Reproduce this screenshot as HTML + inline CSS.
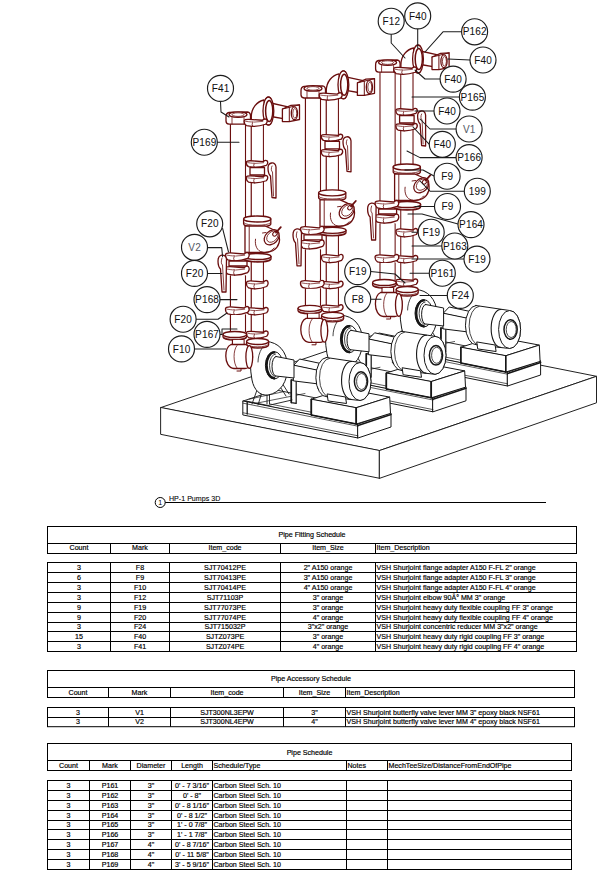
<!DOCTYPE html>
<html><head><meta charset="utf-8"><style>
html,body{margin:0;padding:0;background:#fff;}
svg{display:block;}
text{font-family:"Liberation Sans",sans-serif;}
</style></head><body>
<svg width="613" height="880" viewBox="0 0 613 880">
<rect width="613" height="880" fill="#fff"/>
<rect x="47.5" y="526.5" width="529.0" height="27.0" fill="none" stroke="#000" stroke-width="1"/>
<line x1="47.5" y1="543.5" x2="576.5" y2="543.5" stroke="#000" stroke-width="1"/>
<line x1="110.5" y1="543.5" x2="110.5" y2="553.5" stroke="#000" stroke-width="1"/>
<line x1="169.5" y1="543.5" x2="169.5" y2="553.5" stroke="#000" stroke-width="1"/>
<line x1="280.5" y1="543.5" x2="280.5" y2="553.5" stroke="#000" stroke-width="1"/>
<line x1="375.5" y1="543.5" x2="375.5" y2="553.5" stroke="#000" stroke-width="1"/>
<rect x="47.5" y="562.5" width="529.0" height="89.0" fill="none" stroke="#000" stroke-width="1"/>
<line x1="47.5" y1="572.5" x2="576.5" y2="572.5" stroke="#000" stroke-width="1"/>
<line x1="47.5" y1="582.5" x2="576.5" y2="582.5" stroke="#000" stroke-width="1"/>
<line x1="47.5" y1="592.5" x2="576.5" y2="592.5" stroke="#000" stroke-width="1"/>
<line x1="47.5" y1="602.5" x2="576.5" y2="602.5" stroke="#000" stroke-width="1"/>
<line x1="47.5" y1="612.5" x2="576.5" y2="612.5" stroke="#000" stroke-width="1"/>
<line x1="47.5" y1="622.5" x2="576.5" y2="622.5" stroke="#000" stroke-width="1"/>
<line x1="47.5" y1="631.5" x2="576.5" y2="631.5" stroke="#000" stroke-width="1"/>
<line x1="47.5" y1="641.5" x2="576.5" y2="641.5" stroke="#000" stroke-width="1"/>
<line x1="110.5" y1="562.5" x2="110.5" y2="651.5" stroke="#000" stroke-width="1"/>
<line x1="169.5" y1="562.5" x2="169.5" y2="651.5" stroke="#000" stroke-width="1"/>
<line x1="280.5" y1="562.5" x2="280.5" y2="651.5" stroke="#000" stroke-width="1"/>
<line x1="375.5" y1="562.5" x2="375.5" y2="651.5" stroke="#000" stroke-width="1"/>
<text x="312.0" y="536.8" font-size="7.1" text-anchor="middle" fill="#000" stroke="#000" stroke-width="0.18">Pipe Fitting Schedule</text>
<text x="79.0" y="550.0" font-size="7.1" text-anchor="middle" fill="#000" stroke="#000" stroke-width="0.18">Count</text>
<text x="140.0" y="550.0" font-size="7.1" text-anchor="middle" fill="#000" stroke="#000" stroke-width="0.18">Mark</text>
<text x="225.0" y="550.0" font-size="7.1" text-anchor="middle" fill="#000" stroke="#000" stroke-width="0.18">Item_code</text>
<text x="328.0" y="550.0" font-size="7.1" text-anchor="middle" fill="#000" stroke="#000" stroke-width="0.18">Item_Size</text>
<text x="376.5" y="550.0" font-size="7.1" text-anchor="start" fill="#000" stroke="#000" stroke-width="0.18">Item_Description</text>
<text x="79.0" y="570.0" font-size="7.1" text-anchor="middle" fill="#000" stroke="#000" stroke-width="0.18">3</text>
<text x="140.0" y="570.0" font-size="7.1" text-anchor="middle" fill="#000" stroke="#000" stroke-width="0.18">F8</text>
<text x="225.0" y="570.0" font-size="7.1" text-anchor="middle" fill="#000" stroke="#000" stroke-width="0.18">SJT70412PE</text>
<text x="328.0" y="570.0" font-size="7.1" text-anchor="middle" fill="#000" stroke="#000" stroke-width="0.18">2&quot; A150 orange</text>
<text x="376.5" y="570.0" font-size="7.1" text-anchor="start" fill="#000" stroke="#000" stroke-width="0.18">VSH Shurjoint flange adapter A150 F-FL 2&quot; orange</text>
<text x="79.0" y="580.0" font-size="7.1" text-anchor="middle" fill="#000" stroke="#000" stroke-width="0.18">6</text>
<text x="140.0" y="580.0" font-size="7.1" text-anchor="middle" fill="#000" stroke="#000" stroke-width="0.18">F9</text>
<text x="225.0" y="580.0" font-size="7.1" text-anchor="middle" fill="#000" stroke="#000" stroke-width="0.18">SJT70413PE</text>
<text x="328.0" y="580.0" font-size="7.1" text-anchor="middle" fill="#000" stroke="#000" stroke-width="0.18">3&quot; A150 orange</text>
<text x="376.5" y="580.0" font-size="7.1" text-anchor="start" fill="#000" stroke="#000" stroke-width="0.18">VSH Shurjoint flange adapter A150 F-FL 3&quot; orange</text>
<text x="79.0" y="590.0" font-size="7.1" text-anchor="middle" fill="#000" stroke="#000" stroke-width="0.18">3</text>
<text x="140.0" y="590.0" font-size="7.1" text-anchor="middle" fill="#000" stroke="#000" stroke-width="0.18">F10</text>
<text x="225.0" y="590.0" font-size="7.1" text-anchor="middle" fill="#000" stroke="#000" stroke-width="0.18">SJT70414PE</text>
<text x="328.0" y="590.0" font-size="7.1" text-anchor="middle" fill="#000" stroke="#000" stroke-width="0.18">4&quot; A150 orange</text>
<text x="376.5" y="590.0" font-size="7.1" text-anchor="start" fill="#000" stroke="#000" stroke-width="0.18">VSH Shurjoint flange adapter A150 F-FL 4&quot; orange</text>
<text x="79.0" y="600.0" font-size="7.1" text-anchor="middle" fill="#000" stroke="#000" stroke-width="0.18">3</text>
<text x="140.0" y="600.0" font-size="7.1" text-anchor="middle" fill="#000" stroke="#000" stroke-width="0.18">F12</text>
<text x="225.0" y="600.0" font-size="7.1" text-anchor="middle" fill="#000" stroke="#000" stroke-width="0.18">SJT71103P</text>
<text x="328.0" y="600.0" font-size="7.1" text-anchor="middle" fill="#000" stroke="#000" stroke-width="0.18">3&quot; orange</text>
<text x="376.5" y="600.0" font-size="7.1" text-anchor="start" fill="#000" stroke="#000" stroke-width="0.18">VSH Shurjoint elbow 90Â° MM 3&quot; orange</text>
<text x="79.0" y="610.0" font-size="7.1" text-anchor="middle" fill="#000" stroke="#000" stroke-width="0.18">9</text>
<text x="140.0" y="610.0" font-size="7.1" text-anchor="middle" fill="#000" stroke="#000" stroke-width="0.18">F19</text>
<text x="225.0" y="610.0" font-size="7.1" text-anchor="middle" fill="#000" stroke="#000" stroke-width="0.18">SJT77073PE</text>
<text x="328.0" y="610.0" font-size="7.1" text-anchor="middle" fill="#000" stroke="#000" stroke-width="0.18">3&quot; orange</text>
<text x="376.5" y="610.0" font-size="7.1" text-anchor="start" fill="#000" stroke="#000" stroke-width="0.18">VSH Shurjoint heavy duty flexible coupling FF 3&quot; orange</text>
<text x="79.0" y="620.0" font-size="7.1" text-anchor="middle" fill="#000" stroke="#000" stroke-width="0.18">9</text>
<text x="140.0" y="620.0" font-size="7.1" text-anchor="middle" fill="#000" stroke="#000" stroke-width="0.18">F20</text>
<text x="225.0" y="620.0" font-size="7.1" text-anchor="middle" fill="#000" stroke="#000" stroke-width="0.18">SJT77074PE</text>
<text x="328.0" y="620.0" font-size="7.1" text-anchor="middle" fill="#000" stroke="#000" stroke-width="0.18">4&quot; orange</text>
<text x="376.5" y="620.0" font-size="7.1" text-anchor="start" fill="#000" stroke="#000" stroke-width="0.18">VSH Shurjoint heavy duty flexible coupling FF 4&quot; orange</text>
<text x="79.0" y="629.0" font-size="7.1" text-anchor="middle" fill="#000" stroke="#000" stroke-width="0.18">3</text>
<text x="140.0" y="629.0" font-size="7.1" text-anchor="middle" fill="#000" stroke="#000" stroke-width="0.18">F24</text>
<text x="225.0" y="629.0" font-size="7.1" text-anchor="middle" fill="#000" stroke="#000" stroke-width="0.18">SJT715032P</text>
<text x="328.0" y="629.0" font-size="7.1" text-anchor="middle" fill="#000" stroke="#000" stroke-width="0.18">3&quot;x2&quot; orange</text>
<text x="376.5" y="629.0" font-size="7.1" text-anchor="start" fill="#000" stroke="#000" stroke-width="0.18">VSH Shurjoint concentric reducer MM 3&quot;x2&quot; orange</text>
<text x="79.0" y="639.0" font-size="7.1" text-anchor="middle" fill="#000" stroke="#000" stroke-width="0.18">15</text>
<text x="140.0" y="639.0" font-size="7.1" text-anchor="middle" fill="#000" stroke="#000" stroke-width="0.18">F40</text>
<text x="225.0" y="639.0" font-size="7.1" text-anchor="middle" fill="#000" stroke="#000" stroke-width="0.18">SJTZ073PE</text>
<text x="328.0" y="639.0" font-size="7.1" text-anchor="middle" fill="#000" stroke="#000" stroke-width="0.18">3&quot; orange</text>
<text x="376.5" y="639.0" font-size="7.1" text-anchor="start" fill="#000" stroke="#000" stroke-width="0.18">VSH Shurjoint heavy duty rigid coupling FF 3&quot; orange</text>
<text x="79.0" y="649.0" font-size="7.1" text-anchor="middle" fill="#000" stroke="#000" stroke-width="0.18">3</text>
<text x="140.0" y="649.0" font-size="7.1" text-anchor="middle" fill="#000" stroke="#000" stroke-width="0.18">F41</text>
<text x="225.0" y="649.0" font-size="7.1" text-anchor="middle" fill="#000" stroke="#000" stroke-width="0.18">SJTZ074PE</text>
<text x="328.0" y="649.0" font-size="7.1" text-anchor="middle" fill="#000" stroke="#000" stroke-width="0.18">4&quot; orange</text>
<text x="376.5" y="649.0" font-size="7.1" text-anchor="start" fill="#000" stroke="#000" stroke-width="0.18">VSH Shurjoint heavy duty rigid coupling FF 4&quot; orange</text>
<rect x="47.5" y="670.5" width="527.0" height="27.0" fill="none" stroke="#000" stroke-width="1"/>
<line x1="47.5" y1="687.5" x2="574.5" y2="687.5" stroke="#000" stroke-width="1"/>
<line x1="108.5" y1="687.5" x2="108.5" y2="697.5" stroke="#000" stroke-width="1"/>
<line x1="170.5" y1="687.5" x2="170.5" y2="697.5" stroke="#000" stroke-width="1"/>
<line x1="283.5" y1="687.5" x2="283.5" y2="697.5" stroke="#000" stroke-width="1"/>
<line x1="345.5" y1="687.5" x2="345.5" y2="697.5" stroke="#000" stroke-width="1"/>
<rect x="47.5" y="707.5" width="527.0" height="19.200000000000045" fill="none" stroke="#000" stroke-width="1"/>
<line x1="47.5" y1="717.5" x2="574.5" y2="717.5" stroke="#000" stroke-width="1"/>
<line x1="108.5" y1="707.5" x2="108.5" y2="726.7" stroke="#000" stroke-width="1"/>
<line x1="170.5" y1="707.5" x2="170.5" y2="726.7" stroke="#000" stroke-width="1"/>
<line x1="283.5" y1="707.5" x2="283.5" y2="726.7" stroke="#000" stroke-width="1"/>
<line x1="345.5" y1="707.5" x2="345.5" y2="726.7" stroke="#000" stroke-width="1"/>
<text x="311.0" y="680.8" font-size="7.1" text-anchor="middle" fill="#000" stroke="#000" stroke-width="0.18">Pipe Accessory Schedule</text>
<text x="78.0" y="695.0" font-size="7.1" text-anchor="middle" fill="#000" stroke="#000" stroke-width="0.18">Count</text>
<text x="139.5" y="695.0" font-size="7.1" text-anchor="middle" fill="#000" stroke="#000" stroke-width="0.18">Mark</text>
<text x="227.0" y="695.0" font-size="7.1" text-anchor="middle" fill="#000" stroke="#000" stroke-width="0.18">Item_code</text>
<text x="314.5" y="695.0" font-size="7.1" text-anchor="middle" fill="#000" stroke="#000" stroke-width="0.18">Item_Size</text>
<text x="346.5" y="695.0" font-size="7.1" text-anchor="start" fill="#000" stroke="#000" stroke-width="0.18">Item_Description</text>
<text x="78.0" y="715.0" font-size="7.1" text-anchor="middle" fill="#000" stroke="#000" stroke-width="0.18">3</text>
<text x="139.5" y="715.0" font-size="7.1" text-anchor="middle" fill="#000" stroke="#000" stroke-width="0.18">V1</text>
<text x="227.0" y="715.0" font-size="7.1" text-anchor="middle" fill="#000" stroke="#000" stroke-width="0.18">SJT300NL3EPW</text>
<text x="314.5" y="715.0" font-size="7.1" text-anchor="middle" fill="#000" stroke="#000" stroke-width="0.18">3&quot;</text>
<text x="346.5" y="715.0" font-size="7.1" text-anchor="start" fill="#000" stroke="#000" stroke-width="0.18">VSH Shurjoint butterfly valve lever MM 3&quot; epoxy black NSF61</text>
<text x="78.0" y="724.2" font-size="7.1" text-anchor="middle" fill="#000" stroke="#000" stroke-width="0.18">3</text>
<text x="139.5" y="724.2" font-size="7.1" text-anchor="middle" fill="#000" stroke="#000" stroke-width="0.18">V2</text>
<text x="227.0" y="724.2" font-size="7.1" text-anchor="middle" fill="#000" stroke="#000" stroke-width="0.18">SJT300NL4EPW</text>
<text x="314.5" y="724.2" font-size="7.1" text-anchor="middle" fill="#000" stroke="#000" stroke-width="0.18">4&quot;</text>
<text x="346.5" y="724.2" font-size="7.1" text-anchor="start" fill="#000" stroke="#000" stroke-width="0.18">VSH Shurjoint butterfly valve lever MM 4&quot; epoxy black NSF61</text>
<rect x="47.5" y="743.5" width="524.0" height="27.0" fill="none" stroke="#000" stroke-width="1"/>
<line x1="47.5" y1="760.5" x2="571.5" y2="760.5" stroke="#000" stroke-width="1"/>
<line x1="89.5" y1="760.5" x2="89.5" y2="770.5" stroke="#000" stroke-width="1"/>
<line x1="130.5" y1="760.5" x2="130.5" y2="770.5" stroke="#000" stroke-width="1"/>
<line x1="171.5" y1="760.5" x2="171.5" y2="770.5" stroke="#000" stroke-width="1"/>
<line x1="212.5" y1="760.5" x2="212.5" y2="770.5" stroke="#000" stroke-width="1"/>
<line x1="346.5" y1="760.5" x2="346.5" y2="770.5" stroke="#000" stroke-width="1"/>
<line x1="387.5" y1="760.5" x2="387.5" y2="770.5" stroke="#000" stroke-width="1"/>
<rect x="47.5" y="780.5" width="524.0" height="89.0" fill="none" stroke="#000" stroke-width="1"/>
<line x1="47.5" y1="790.5" x2="571.5" y2="790.5" stroke="#000" stroke-width="1"/>
<line x1="47.5" y1="800.5" x2="571.5" y2="800.5" stroke="#000" stroke-width="1"/>
<line x1="47.5" y1="810.5" x2="571.5" y2="810.5" stroke="#000" stroke-width="1"/>
<line x1="47.5" y1="820.5" x2="571.5" y2="820.5" stroke="#000" stroke-width="1"/>
<line x1="47.5" y1="829.5" x2="571.5" y2="829.5" stroke="#000" stroke-width="1"/>
<line x1="47.5" y1="839.5" x2="571.5" y2="839.5" stroke="#000" stroke-width="1"/>
<line x1="47.5" y1="849.5" x2="571.5" y2="849.5" stroke="#000" stroke-width="1"/>
<line x1="47.5" y1="859.5" x2="571.5" y2="859.5" stroke="#000" stroke-width="1"/>
<line x1="89.5" y1="780.5" x2="89.5" y2="869.5" stroke="#000" stroke-width="1"/>
<line x1="130.5" y1="780.5" x2="130.5" y2="869.5" stroke="#000" stroke-width="1"/>
<line x1="171.5" y1="780.5" x2="171.5" y2="869.5" stroke="#000" stroke-width="1"/>
<line x1="212.5" y1="780.5" x2="212.5" y2="869.5" stroke="#000" stroke-width="1"/>
<line x1="346.5" y1="780.5" x2="346.5" y2="869.5" stroke="#000" stroke-width="1"/>
<line x1="387.5" y1="780.5" x2="387.5" y2="869.5" stroke="#000" stroke-width="1"/>
<text x="309.5" y="754.8" font-size="7.1" text-anchor="middle" fill="#000" stroke="#000" stroke-width="0.18">Pipe Schedule</text>
<text x="68.5" y="768.0" font-size="7.1" text-anchor="middle" fill="#000" stroke="#000" stroke-width="0.18">Count</text>
<text x="110.0" y="768.0" font-size="7.1" text-anchor="middle" fill="#000" stroke="#000" stroke-width="0.18">Mark</text>
<text x="151.0" y="768.0" font-size="7.1" text-anchor="middle" fill="#000" stroke="#000" stroke-width="0.18">Diameter</text>
<text x="192.0" y="768.0" font-size="7.1" text-anchor="middle" fill="#000" stroke="#000" stroke-width="0.18">Length</text>
<text x="213.5" y="768.0" font-size="7.1" text-anchor="start" fill="#000" stroke="#000" stroke-width="0.18">Schedule/Type</text>
<text x="347.5" y="768.0" font-size="7.1" text-anchor="start" fill="#000" stroke="#000" stroke-width="0.18">Notes</text>
<text x="388.5" y="768.0" font-size="7.1" text-anchor="start" fill="#000" stroke="#000" stroke-width="0.18">MechTeeSize/DistanceFromEndOfPipe</text>
<text x="68.5" y="788.0" font-size="7.1" text-anchor="middle" fill="#000" stroke="#000" stroke-width="0.18">3</text>
<text x="110.0" y="788.0" font-size="7.1" text-anchor="middle" fill="#000" stroke="#000" stroke-width="0.18">P161</text>
<text x="151.0" y="788.0" font-size="7.1" text-anchor="middle" fill="#000" stroke="#000" stroke-width="0.18">3&quot;</text>
<text x="192.0" y="788.0" font-size="7.1" text-anchor="middle" fill="#000" stroke="#000" stroke-width="0.18">0' - 7 3/16&quot;</text>
<text x="213.5" y="788.0" font-size="7.1" text-anchor="start" fill="#000" stroke="#000" stroke-width="0.18">Carbon Steel Sch. 10</text>
<text x="68.5" y="798.0" font-size="7.1" text-anchor="middle" fill="#000" stroke="#000" stroke-width="0.18">3</text>
<text x="110.0" y="798.0" font-size="7.1" text-anchor="middle" fill="#000" stroke="#000" stroke-width="0.18">P162</text>
<text x="151.0" y="798.0" font-size="7.1" text-anchor="middle" fill="#000" stroke="#000" stroke-width="0.18">3&quot;</text>
<text x="192.0" y="798.0" font-size="7.1" text-anchor="middle" fill="#000" stroke="#000" stroke-width="0.18">0' - 8&quot;</text>
<text x="213.5" y="798.0" font-size="7.1" text-anchor="start" fill="#000" stroke="#000" stroke-width="0.18">Carbon Steel Sch. 10</text>
<text x="68.5" y="808.0" font-size="7.1" text-anchor="middle" fill="#000" stroke="#000" stroke-width="0.18">3</text>
<text x="110.0" y="808.0" font-size="7.1" text-anchor="middle" fill="#000" stroke="#000" stroke-width="0.18">P163</text>
<text x="151.0" y="808.0" font-size="7.1" text-anchor="middle" fill="#000" stroke="#000" stroke-width="0.18">3&quot;</text>
<text x="192.0" y="808.0" font-size="7.1" text-anchor="middle" fill="#000" stroke="#000" stroke-width="0.18">0' - 8 1/16&quot;</text>
<text x="213.5" y="808.0" font-size="7.1" text-anchor="start" fill="#000" stroke="#000" stroke-width="0.18">Carbon Steel Sch. 10</text>
<text x="68.5" y="818.0" font-size="7.1" text-anchor="middle" fill="#000" stroke="#000" stroke-width="0.18">3</text>
<text x="110.0" y="818.0" font-size="7.1" text-anchor="middle" fill="#000" stroke="#000" stroke-width="0.18">P164</text>
<text x="151.0" y="818.0" font-size="7.1" text-anchor="middle" fill="#000" stroke="#000" stroke-width="0.18">3&quot;</text>
<text x="192.0" y="818.0" font-size="7.1" text-anchor="middle" fill="#000" stroke="#000" stroke-width="0.18">0' - 8 1/2&quot;</text>
<text x="213.5" y="818.0" font-size="7.1" text-anchor="start" fill="#000" stroke="#000" stroke-width="0.18">Carbon Steel Sch. 10</text>
<text x="68.5" y="827.0" font-size="7.1" text-anchor="middle" fill="#000" stroke="#000" stroke-width="0.18">3</text>
<text x="110.0" y="827.0" font-size="7.1" text-anchor="middle" fill="#000" stroke="#000" stroke-width="0.18">P165</text>
<text x="151.0" y="827.0" font-size="7.1" text-anchor="middle" fill="#000" stroke="#000" stroke-width="0.18">3&quot;</text>
<text x="192.0" y="827.0" font-size="7.1" text-anchor="middle" fill="#000" stroke="#000" stroke-width="0.18">1' - 0 7/8&quot;</text>
<text x="213.5" y="827.0" font-size="7.1" text-anchor="start" fill="#000" stroke="#000" stroke-width="0.18">Carbon Steel Sch. 10</text>
<text x="68.5" y="837.0" font-size="7.1" text-anchor="middle" fill="#000" stroke="#000" stroke-width="0.18">3</text>
<text x="110.0" y="837.0" font-size="7.1" text-anchor="middle" fill="#000" stroke="#000" stroke-width="0.18">P166</text>
<text x="151.0" y="837.0" font-size="7.1" text-anchor="middle" fill="#000" stroke="#000" stroke-width="0.18">3&quot;</text>
<text x="192.0" y="837.0" font-size="7.1" text-anchor="middle" fill="#000" stroke="#000" stroke-width="0.18">1' - 1 7/8&quot;</text>
<text x="213.5" y="837.0" font-size="7.1" text-anchor="start" fill="#000" stroke="#000" stroke-width="0.18">Carbon Steel Sch. 10</text>
<text x="68.5" y="847.0" font-size="7.1" text-anchor="middle" fill="#000" stroke="#000" stroke-width="0.18">3</text>
<text x="110.0" y="847.0" font-size="7.1" text-anchor="middle" fill="#000" stroke="#000" stroke-width="0.18">P167</text>
<text x="151.0" y="847.0" font-size="7.1" text-anchor="middle" fill="#000" stroke="#000" stroke-width="0.18">4&quot;</text>
<text x="192.0" y="847.0" font-size="7.1" text-anchor="middle" fill="#000" stroke="#000" stroke-width="0.18">0' - 8 7/16&quot;</text>
<text x="213.5" y="847.0" font-size="7.1" text-anchor="start" fill="#000" stroke="#000" stroke-width="0.18">Carbon Steel Sch. 10</text>
<text x="68.5" y="857.0" font-size="7.1" text-anchor="middle" fill="#000" stroke="#000" stroke-width="0.18">3</text>
<text x="110.0" y="857.0" font-size="7.1" text-anchor="middle" fill="#000" stroke="#000" stroke-width="0.18">P168</text>
<text x="151.0" y="857.0" font-size="7.1" text-anchor="middle" fill="#000" stroke="#000" stroke-width="0.18">4&quot;</text>
<text x="192.0" y="857.0" font-size="7.1" text-anchor="middle" fill="#000" stroke="#000" stroke-width="0.18">0' - 11 5/8&quot;</text>
<text x="213.5" y="857.0" font-size="7.1" text-anchor="start" fill="#000" stroke="#000" stroke-width="0.18">Carbon Steel Sch. 10</text>
<text x="68.5" y="867.0" font-size="7.1" text-anchor="middle" fill="#000" stroke="#000" stroke-width="0.18">3</text>
<text x="110.0" y="867.0" font-size="7.1" text-anchor="middle" fill="#000" stroke="#000" stroke-width="0.18">P169</text>
<text x="151.0" y="867.0" font-size="7.1" text-anchor="middle" fill="#000" stroke="#000" stroke-width="0.18">4&quot;</text>
<text x="192.0" y="867.0" font-size="7.1" text-anchor="middle" fill="#000" stroke="#000" stroke-width="0.18">3' - 5 9/16&quot;</text>
<text x="213.5" y="867.0" font-size="7.1" text-anchor="start" fill="#000" stroke="#000" stroke-width="0.18">Carbon Steel Sch. 10</text>
<circle cx="160.2" cy="502.5" r="5" fill="none" stroke="#000" stroke-width="1"/>
<text x="160.2" y="505" font-size="7" text-anchor="middle" fill="#000" >1</text>
<line x1="165.2" y1="502.5" x2="546" y2="502.5" stroke="#000" stroke-width="1"/>
<text x="169" y="500.6" font-size="7.1" text-anchor="start" fill="#000" stroke="#000" stroke-width="0.08">HP-1 Pumps 3D</text>
<path d="M161.0,407.5 L379.3,333.1 L596.5,376.3 L379.6,450.5 Z" stroke="#161616" stroke-width="0.95" fill="#fff" stroke-linejoin="round" stroke-linecap="round" />
<path d="M161.0,407.5 L379.6,450.5 L379.6,478.3 L161.0,434.4 Z" stroke="#161616" stroke-width="0.95" fill="#fff" stroke-linejoin="round" stroke-linecap="round" />
<path d="M379.6,450.5 L596.5,376.3 L596.5,402.8 L379.6,478.3 Z" stroke="#161616" stroke-width="0.95" fill="#fff" stroke-linejoin="round" stroke-linecap="round" />
<g transform="translate(149.6,-52)">
<path d="M243.2,401.0 L276.2,390.0 L391.0,413.0 L358.0,424.0 Z" stroke="#161616" stroke-width="0.9" fill="#fff" stroke-linejoin="round" stroke-linecap="round" />
<path d="M243.2,401.0 L358.0,424.0 L358.0,438.0 L243.2,415.0 Z" stroke="#161616" stroke-width="1.0" fill="#fff" stroke-linejoin="round" stroke-linecap="round" />
<path d="M358.0,424.0 L391.0,413.0 L391.0,427.0 L358.0,438.0 Z" stroke="#161616" stroke-width="1.0" fill="#fff" stroke-linejoin="round" stroke-linecap="round" />
<path d="M243.2,403.2 L358.0,426.2" stroke="#161616" stroke-width="0.7" fill="none" stroke-linejoin="round" stroke-linecap="round" />
<path d="M243.2,412.8 L358.0,435.8" stroke="#161616" stroke-width="0.7" fill="none" stroke-linejoin="round" stroke-linecap="round" />
<path d="M358.0,425.5 L391.0,414.5" stroke="#161616" stroke-width="1.5" fill="none" stroke-linejoin="round" stroke-linecap="round" />
<path d="M247.2,402.0 L247.2,414.0" stroke="#161616" stroke-width="1.3" fill="none" stroke-linejoin="round" stroke-linecap="round" />
<path d="M249.0,399.2 L283.0,391.8" stroke="#161616" stroke-width="0.7" fill="none" stroke-linejoin="round" stroke-linecap="round" />
<path d="M255.0,403.5 L305.0,393.5" stroke="#161616" stroke-width="0.7" fill="none" stroke-linejoin="round" stroke-linecap="round" />
<path d="M270.0,404.0 L318.0,413.5" stroke="#161616" stroke-width="0.7" fill="none" stroke-linejoin="round" stroke-linecap="round" />
<path d="M311.4,399.2 L344.8,388.6 L389.7,397.1 L356.3,407.7 Z" stroke="#161616" stroke-width="1.0" fill="#fff" stroke-linejoin="round" stroke-linecap="round" />
<path d="M311.4,399.2 L356.3,407.7 L356.3,424.0 L311.4,415.1 Z" stroke="#161616" stroke-width="1.0" fill="#fff" stroke-linejoin="round" stroke-linecap="round" />
<path d="M356.3,407.7 L389.7,397.1 L390.5,413.4 L356.3,424.0 Z" stroke="#161616" stroke-width="1.0" fill="#fff" stroke-linejoin="round" stroke-linecap="round" />
<path d="M311.4,399.2 L311.4,415.1" stroke="#161616" stroke-width="1.5" fill="none" stroke-linejoin="round" stroke-linecap="round" />
<path d="M356.3,408.0 L356.3,424.0" stroke="#161616" stroke-width="1.5" fill="none" stroke-linejoin="round" stroke-linecap="round" />
<path d="M291.3,379.8 L296.2,380.5 L296.2,403.4 L291.3,402.6 Z" stroke="#161616" stroke-width="1.2" fill="#fff" stroke-linejoin="round" stroke-linecap="round" />
<path d="M291.3,380.0 L291.3,402.6" stroke="#161616" stroke-width="1.6" fill="none" stroke-linejoin="round" stroke-linecap="round" />
<path d="M293.7,365.2 L299.6,359.0 L323.0,364.0 L317.2,370.1 Z" stroke="#161616" stroke-width="1.0" fill="#fff" stroke-linejoin="round" stroke-linecap="round" />
<path d="M293.7,365.2 L317.2,370.1 L317.2,383.8 L293.7,380.9 Z" stroke="#161616" stroke-width="1.0" fill="#fff" stroke-linejoin="round" stroke-linecap="round" />
<path d="M326.3,357.5 L360,362.5 A11,19 0 0 1 360,400.5 L327,396.8 A10.8,19.65 0 0 1 326.3,357.5 Z" stroke="#161616" stroke-width="1.0" fill="#fff" stroke-linejoin="round" stroke-linecap="round" />
<path d="M329.5,358.3 A10,19 0 0 0 330,397.2" stroke="#161616" stroke-width="0.8" fill="none" stroke-linejoin="round" stroke-linecap="round" />
<path d="M351.5,361.5 A9.5,18.5 0 0 0 351,399.3" stroke="#161616" stroke-width="1.1" fill="none" stroke-linejoin="round" stroke-linecap="round" />
<ellipse cx="360" cy="381.5" rx="11" ry="19" stroke="#161616" stroke-width="1.0" fill="#fff" transform="rotate(0 360 381.5)"/>
<ellipse cx="361" cy="381.5" rx="6.6" ry="9.8" stroke="#161616" stroke-width="1.5" fill="#fff" transform="rotate(0 361 381.5)"/>
<ellipse cx="361.6" cy="381.5" rx="5" ry="8" stroke="#161616" stroke-width="0.8" fill="none" transform="rotate(0 361.6 381.5)"/>
<path d="M257.0,390.0 L252.0,404.0" stroke="#161616" stroke-width="0.9" fill="none" stroke-linejoin="round" stroke-linecap="round" />
<path d="M262.0,392.0 L258.0,405.0" stroke="#161616" stroke-width="0.9" fill="none" stroke-linejoin="round" stroke-linecap="round" />
<path d="M267.0,393.0 L267.0,404.0" stroke="#161616" stroke-width="0.9" fill="none" stroke-linejoin="round" stroke-linecap="round" />
<path d="M269.5,393.0 L269.5,404.0" stroke="#161616" stroke-width="0.9" fill="none" stroke-linejoin="round" stroke-linecap="round" />
<path d="M279.0,385.0 L286.0,396.0" stroke="#161616" stroke-width="0.9" fill="none" stroke-linejoin="round" stroke-linecap="round" />
<path d="M282.0,383.0 L289.0,394.0" stroke="#161616" stroke-width="0.9" fill="none" stroke-linejoin="round" stroke-linecap="round" />
<path d="M246.0,401.0 L268.0,405.5 L292.0,400.0" stroke="#161616" stroke-width="0.9" fill="none" stroke-linejoin="round" stroke-linecap="round" />
<path d="M250.8,347 C252,344 258,341.5 266,341.5 C278,342 287,351 287.5,366 C288,382 280,393 268,395 C260,396 254,390 252,380 C250,370 250,356 250.8,347 Z" stroke="#161616" stroke-width="1.0" fill="#fff" stroke-linejoin="round" stroke-linecap="round" />
<path d="M262,348 C259,353 258,358 258,362" stroke="#161616" stroke-width="0.8" fill="none" stroke-linejoin="round" stroke-linecap="round" />
<ellipse cx="274.2" cy="365.3" rx="8.8" ry="13.7" stroke="#161616" stroke-width="1.0" fill="#fff" transform="rotate(0 274.2 365.3)"/>
<path d="M274.2,352.4 A7.6,12.9 0 0 0 274.2,378.2" stroke="#161616" stroke-width="2.4" fill="none" stroke-linejoin="round" stroke-linecap="round" />
<path d="M275.5,354 A6,11.3 0 0 0 275.5,376.6" stroke="#161616" stroke-width="0.8" fill="none" stroke-linejoin="round" stroke-linecap="round" />
<path d="M327.5,394.0 L345.5,397.0 L346.5,403.5 L328.5,401.0 Z" stroke="#161616" stroke-width="1.0" fill="#fff" stroke-linejoin="round" stroke-linecap="round" />
<path d="M311.4,415.1 L356.3,424.0" stroke="#161616" stroke-width="1.5" fill="none" stroke-linejoin="round" stroke-linecap="round" />
<path d="M276,356.5 L294,360 L294,378 L276,376 A4,9.75 0 0 1 276,356.5 Z" stroke="#161616" stroke-width="1.0" fill="#fff" stroke-linejoin="round" stroke-linecap="round" />
<path d="M230.5,121 L230.5,254 M245.4,121 L245.4,254" stroke="#6a0e0e" stroke-width="1.3" fill="none" stroke-linejoin="round" stroke-linecap="round" />
<path d="M231.1,121.0 L244.8,121.0 L244.8,254.0 L231.1,254.0 Z" stroke="none" stroke-width="0" fill="#fff" stroke-linejoin="round" stroke-linecap="round" />
<path d="M251.3,124 L251.3,337 M263.3,124 L263.3,337" stroke="#6a0e0e" stroke-width="1.3" fill="none" stroke-linejoin="round" stroke-linecap="round" />
<path d="M251.9,124.0 L262.7,124.0 L262.7,337.0 L251.9,337.0 Z" stroke="none" stroke-width="0" fill="#fff" stroke-linejoin="round" stroke-linecap="round" />
<path d="M226,117 Q226,113 229,112.5 L247.5,112 Q250.5,112.5 250.5,116 L250.5,121 Q250.5,124 247,124.2 L229,124.2 Q226,124 226,121 Z" stroke="#6a0e0e" stroke-width="1.3" fill="#fff" stroke-linejoin="round" stroke-linecap="round" />
<ellipse cx="238" cy="114.6" rx="9" ry="2.8" stroke="#6a0e0e" stroke-width="1.3" fill="#fff" transform="rotate(0 238 114.6)"/>
<ellipse cx="238" cy="114.6" rx="6" ry="1.8" stroke="#6a0e0e" stroke-width="0.8" fill="none" transform="rotate(0 238 114.6)"/>
<path d="M232,117.5 L232,124 M244,117.5 L244,124" stroke="#6a0e0e" stroke-width="0.8" fill="none" stroke-linejoin="round" stroke-linecap="round" />
<path d="M251.3,121 L251.3,117 C251.3,108 257,101.5 264,100 L266,121 Z" stroke="#6a0e0e" stroke-width="1.3" fill="#fff" stroke-linejoin="round" stroke-linecap="round" />
<path d="M268.5,102.5 L288.0,106.8 L286.0,119.2 L271.0,116.5 Z" stroke="#6a0e0e" stroke-width="1.3" fill="#fff" stroke-linejoin="round" stroke-linecap="round" />
<ellipse cx="268.4" cy="111" rx="5.4" ry="14" stroke="#6a0e0e" stroke-width="1.3" fill="#fff" transform="rotate(0 268.4 111)"/>
<ellipse cx="269.2" cy="111" rx="3.6" ry="10.5" stroke="#6a0e0e" stroke-width="1.5" fill="#fff" transform="rotate(0 269.2 111)"/>
<path d="M265.5,98.5 Q268,95.5 271,98 M265.5,123.5 Q268,126.5 271,124" stroke="#6a0e0e" stroke-width="1.0" fill="none" stroke-linejoin="round" stroke-linecap="round" />
<path d="M244.20,121.06 Q244.20,119.14 248.86,119.30 L262.37,120.26 Q264.70,118.18 266.57,119.46 Q268.20,121.86 265.64,124.26 Q255.85,127.62 246.53,125.54 Q243.97,124.10 244.20,121.06 Z" stroke="#6a0e0e" stroke-width="1.3" fill="#fff" stroke-linejoin="round" stroke-linecap="round" />
<path d="M252.82,121.86 Q251.19,124.26 252.82,126.66" stroke="#6a0e0e" stroke-width="0.8" fill="none" stroke-linejoin="round" stroke-linecap="round" />
<path d="M253.99,122.10 L262.84,121.38" stroke="#6a0e0e" stroke-width="0.7" fill="none" stroke-linejoin="round" stroke-linecap="round" />
<path d="M245.60,121.30 Q253.52,122.50 252.82,121.86" stroke="#6a0e0e" stroke-width="0.7" fill="none" stroke-linejoin="round" stroke-linecap="round" />
<path d="M282.4,109.0 L291.0,105.3 L299.5,104.8 L299.5,119.5 L289.3,121.6 L282.4,121.6 Z" stroke="#6a0e0e" stroke-width="1.3" fill="#fff" stroke-linejoin="round" stroke-linecap="round" />
<path d="M282.4,109.0 L289.3,107.4 L299.5,104.8" stroke="#6a0e0e" stroke-width="1.0" fill="none" stroke-linejoin="round" stroke-linecap="round" />
<path d="M289.3,107.4 L289.3,121.6" stroke="#6a0e0e" stroke-width="1.0" fill="none" stroke-linejoin="round" stroke-linecap="round" />
<ellipse cx="294.4" cy="113.3" rx="3.1" ry="6.4" stroke="#6a0e0e" stroke-width="1.3" fill="#fff" transform="rotate(0 294.4 113.3)"/>
<ellipse cx="294.8" cy="113.3" rx="2.0" ry="4.8" stroke="#6a0e0e" stroke-width="0.8" fill="none" transform="rotate(0 294.8 113.3)"/>
<path d="M246.30,162.40 Q246.30,160.60 250.64,160.75 L263.23,161.65 Q265.40,159.70 267.13,160.90 Q268.65,163.15 266.26,165.40 Q257.15,168.55 248.47,166.60 Q246.08,165.25 246.30,162.40 Z" stroke="#6a0e0e" stroke-width="1.3" fill="#fff" stroke-linejoin="round" stroke-linecap="round" />
<path d="M254.33,163.15 Q252.81,165.40 254.33,167.65" stroke="#6a0e0e" stroke-width="0.8" fill="none" stroke-linejoin="round" stroke-linecap="round" />
<path d="M255.41,163.38 L263.66,162.70" stroke="#6a0e0e" stroke-width="0.7" fill="none" stroke-linejoin="round" stroke-linecap="round" />
<path d="M247.60,162.62 Q254.98,163.75 254.33,163.15" stroke="#6a0e0e" stroke-width="0.7" fill="none" stroke-linejoin="round" stroke-linecap="round" />
<path d="M250,167.5 L264.5,167.5 L264.5,175 L250,175 Z" stroke="#6a0e0e" stroke-width="1.3" fill="#fff" stroke-linejoin="round" stroke-linecap="round" />
<path d="M246.30,177.56 Q246.30,175.64 250.64,175.80 L263.23,176.76 Q265.40,174.68 267.13,175.96 Q268.65,178.36 266.26,180.76 Q257.15,184.12 248.47,182.04 Q246.08,180.60 246.30,177.56 Z" stroke="#6a0e0e" stroke-width="1.3" fill="#fff" stroke-linejoin="round" stroke-linecap="round" />
<path d="M254.33,178.36 Q252.81,180.76 254.33,183.16" stroke="#6a0e0e" stroke-width="0.8" fill="none" stroke-linejoin="round" stroke-linecap="round" />
<path d="M255.41,178.60 L263.66,177.88" stroke="#6a0e0e" stroke-width="0.7" fill="none" stroke-linejoin="round" stroke-linecap="round" />
<path d="M247.60,177.80 Q254.98,179.00 254.33,178.36" stroke="#6a0e0e" stroke-width="0.7" fill="none" stroke-linejoin="round" stroke-linecap="round" />
<path d="M268,168 C268,162 275,161 276,167 L276,198 L272,197.5 L270.5,176 C268.5,174 268,171 268,168 Z" stroke="#6a0e0e" stroke-width="1.3" fill="#fff" stroke-linejoin="round" stroke-linecap="round" />
<path d="M272,166 C271,168 271,171 272.5,172 L273.5,196" stroke="#6a0e0e" stroke-width="0.8" fill="none" stroke-linejoin="round" stroke-linecap="round" />
<path d="M243.6,219 L243.6,224 A13.600000000000009,3 0 0 0 270.8,224 L270.8,219" stroke="#6a0e0e" stroke-width="1.3" fill="#fff" stroke-linejoin="round" stroke-linecap="round" />
<ellipse cx="257.2" cy="219" rx="13.600000000000009" ry="3" stroke="#6a0e0e" stroke-width="1.3" fill="#fff" transform="rotate(0 257.2 219)"/>
<path d="M244.1,223.0 A13.600000000000009,3 0 0 0 270.3,223.0" stroke="#6a0e0e" stroke-width="0.8" fill="none" stroke-linejoin="round" stroke-linecap="round" />
<path d="M245,226 L245,252.5 L262,252.5 C270,253 277,250 279,243 C281,236 277,231 272,229 L265,226 Z" stroke="#6a0e0e" stroke-width="1.3" fill="#fff" stroke-linejoin="round" stroke-linecap="round" />
<path d="M249.2,226.5 L249.2,252" stroke="#6a0e0e" stroke-width="0.9" fill="none" stroke-linejoin="round" stroke-linecap="round" />
<path d="M255.5,239.2 C254.5,246 257.5,251 262,252 C267,253 271.5,251.5 274.1,248" stroke="#6a0e0e" stroke-width="0.9" fill="none" stroke-linejoin="round" stroke-linecap="round" />
<ellipse cx="271.7" cy="237.3" rx="8.6" ry="6.3" stroke="#6a0e0e" stroke-width="1.3" fill="#fff" transform="rotate(-45 271.7 237.3)"/>
<ellipse cx="272.4" cy="236.6" rx="6.6" ry="4.6" stroke="#6a0e0e" stroke-width="0.8" fill="none" transform="rotate(-45 272.4 236.6)"/>
<path d="M262.5,233 L266,232.5" stroke="#6a0e0e" stroke-width="0.9" fill="none" stroke-linejoin="round" stroke-linecap="round" />
<ellipse cx="275" cy="233.8" rx="2.6" ry="1.9" stroke="#6a0e0e" stroke-width="1.0" fill="#fff" transform="rotate(-45 275 233.8)"/>
<path d="M276.0,232.5 L280.8,227.2" stroke="#6a0e0e" stroke-width="1.8" fill="none" stroke-linejoin="round" stroke-linecap="round" />
<path d="M244,256.5 L244,259 A13.5,3 0 0 0 271,259 L271,256.5" stroke="#6a0e0e" stroke-width="1.3" fill="#fff" stroke-linejoin="round" stroke-linecap="round" />
<ellipse cx="257.5" cy="256.5" rx="13.5" ry="3" stroke="#6a0e0e" stroke-width="1.3" fill="#fff" transform="rotate(0 257.5 256.5)"/>
<path d="M244.5,259.25 A13.5,3 0 0 0 270.5,259.25" stroke="#6a0e0e" stroke-width="0.8" fill="none" stroke-linejoin="round" stroke-linecap="round" />
<path d="M246.40,282.88 Q246.40,280.72 250.80,280.90 L263.56,281.98 Q265.76,279.64 267.52,281.08 Q269.06,283.78 266.64,286.48 Q257.40,290.26 248.60,287.92 Q246.18,286.30 246.40,282.88 Z" stroke="#6a0e0e" stroke-width="1.3" fill="#fff" stroke-linejoin="round" stroke-linecap="round" />
<path d="M254.54,283.78 Q253.00,286.48 254.54,289.18" stroke="#6a0e0e" stroke-width="0.8" fill="none" stroke-linejoin="round" stroke-linecap="round" />
<path d="M255.64,284.05 L264.00,283.24" stroke="#6a0e0e" stroke-width="0.7" fill="none" stroke-linejoin="round" stroke-linecap="round" />
<path d="M247.72,283.15 Q255.20,284.50 254.54,283.78" stroke="#6a0e0e" stroke-width="0.7" fill="none" stroke-linejoin="round" stroke-linecap="round" />
<path d="M246.40,309.56 Q246.40,307.64 250.80,307.80 L263.56,308.76 Q265.76,306.68 267.52,307.96 Q269.06,310.36 266.64,312.76 Q257.40,316.12 248.60,314.04 Q246.18,312.60 246.40,309.56 Z" stroke="#6a0e0e" stroke-width="1.3" fill="#fff" stroke-linejoin="round" stroke-linecap="round" />
<path d="M254.54,310.36 Q253.00,312.76 254.54,315.16" stroke="#6a0e0e" stroke-width="0.8" fill="none" stroke-linejoin="round" stroke-linecap="round" />
<path d="M255.64,310.60 L264.00,309.88" stroke="#6a0e0e" stroke-width="0.7" fill="none" stroke-linejoin="round" stroke-linecap="round" />
<path d="M247.72,309.80 Q255.20,311.00 254.54,310.36" stroke="#6a0e0e" stroke-width="0.7" fill="none" stroke-linejoin="round" stroke-linecap="round" />
<path d="M246.40,333.06 Q246.40,331.14 250.80,331.30 L263.56,332.26 Q265.76,330.18 267.52,331.46 Q269.06,333.86 266.64,336.26 Q257.40,339.62 248.60,337.54 Q246.18,336.10 246.40,333.06 Z" stroke="#6a0e0e" stroke-width="1.3" fill="#fff" stroke-linejoin="round" stroke-linecap="round" />
<path d="M254.54,333.86 Q253.00,336.26 254.54,338.66" stroke="#6a0e0e" stroke-width="0.8" fill="none" stroke-linejoin="round" stroke-linecap="round" />
<path d="M255.64,334.10 L264.00,333.38" stroke="#6a0e0e" stroke-width="0.7" fill="none" stroke-linejoin="round" stroke-linecap="round" />
<path d="M247.72,333.30 Q255.20,334.50 254.54,333.86" stroke="#6a0e0e" stroke-width="0.7" fill="none" stroke-linejoin="round" stroke-linecap="round" />
<path d="M246.6,341.5 L246.6,345 A11.000000000000014,3 0 0 0 268.6,345 L268.6,341.5" stroke="#6a0e0e" stroke-width="1.3" fill="#fff" stroke-linejoin="round" stroke-linecap="round" />
<ellipse cx="257.6" cy="341.5" rx="11.000000000000014" ry="3" stroke="#6a0e0e" stroke-width="1.3" fill="#fff" transform="rotate(0 257.6 341.5)"/>
<path d="M247.1,344.75 A11.000000000000014,3 0 0 0 268.1,344.75" stroke="#6a0e0e" stroke-width="0.8" fill="none" stroke-linejoin="round" stroke-linecap="round" />
<path d="M225.50,254.88 Q225.50,252.72 230.30,252.90 L244.22,253.98 Q246.62,251.64 248.54,253.08 Q250.22,255.78 247.58,258.48 Q237.50,262.26 227.90,259.92 Q225.26,258.30 225.50,254.88 Z" stroke="#6a0e0e" stroke-width="1.3" fill="#fff" stroke-linejoin="round" stroke-linecap="round" />
<path d="M234.38,255.78 Q232.70,258.48 234.38,261.18" stroke="#6a0e0e" stroke-width="0.8" fill="none" stroke-linejoin="round" stroke-linecap="round" />
<path d="M235.58,256.05 L244.70,255.24" stroke="#6a0e0e" stroke-width="0.7" fill="none" stroke-linejoin="round" stroke-linecap="round" />
<path d="M226.94,255.15 Q235.10,256.50 234.38,255.78" stroke="#6a0e0e" stroke-width="0.7" fill="none" stroke-linejoin="round" stroke-linecap="round" />
<path d="M229,261 L247,261 L247,266 L229,266 Z" stroke="#6a0e0e" stroke-width="1.3" fill="#fff" stroke-linejoin="round" stroke-linecap="round" />
<path d="M225.50,268.74 Q225.50,266.38 230.30,266.58 L244.22,267.76 Q246.62,265.21 248.54,266.78 Q250.22,269.72 247.58,272.66 Q237.50,276.77 227.90,274.22 Q225.26,272.46 225.50,268.74 Z" stroke="#6a0e0e" stroke-width="1.3" fill="#fff" stroke-linejoin="round" stroke-linecap="round" />
<path d="M234.38,269.72 Q232.70,272.66 234.38,275.60" stroke="#6a0e0e" stroke-width="0.8" fill="none" stroke-linejoin="round" stroke-linecap="round" />
<path d="M235.58,270.01 L244.70,269.13" stroke="#6a0e0e" stroke-width="0.7" fill="none" stroke-linejoin="round" stroke-linecap="round" />
<path d="M226.94,269.03 Q235.10,270.50 234.38,269.72" stroke="#6a0e0e" stroke-width="0.7" fill="none" stroke-linejoin="round" stroke-linecap="round" />
<path d="M218,261 C218,254 225.5,253 226.5,259 L226,292 L222,292 L220.5,269 C218.5,267 218,264 218,261 Z" stroke="#6a0e0e" stroke-width="1.3" fill="#fff" stroke-linejoin="round" stroke-linecap="round" />
<path d="M222,258 C221,261 221,264 222.5,265 L224,290" stroke="#6a0e0e" stroke-width="0.8" fill="none" stroke-linejoin="round" stroke-linecap="round" />
<path d="M230.5,276 L230.5,306 M245.4,276 L245.4,306" stroke="#6a0e0e" stroke-width="1.3" fill="none" stroke-linejoin="round" stroke-linecap="round" />
<path d="M231.1,276.0 L244.8,276.0 L244.8,306.0 L231.1,306.0 Z" stroke="none" stroke-width="0" fill="#fff" stroke-linejoin="round" stroke-linecap="round" />
<path d="M225.50,308.88 Q225.50,306.72 230.30,306.90 L244.22,307.98 Q246.62,305.64 248.54,307.08 Q250.22,309.78 247.58,312.48 Q237.50,316.26 227.90,313.92 Q225.26,312.30 225.50,308.88 Z" stroke="#6a0e0e" stroke-width="1.3" fill="#fff" stroke-linejoin="round" stroke-linecap="round" />
<path d="M234.38,309.78 Q232.70,312.48 234.38,315.18" stroke="#6a0e0e" stroke-width="0.8" fill="none" stroke-linejoin="round" stroke-linecap="round" />
<path d="M235.58,310.05 L244.70,309.24" stroke="#6a0e0e" stroke-width="0.7" fill="none" stroke-linejoin="round" stroke-linecap="round" />
<path d="M226.94,309.15 Q235.10,310.50 234.38,309.78" stroke="#6a0e0e" stroke-width="0.7" fill="none" stroke-linejoin="round" stroke-linecap="round" />
<path d="M230.5,315 L230.5,331.5 M245.4,315 L245.4,331.5" stroke="#6a0e0e" stroke-width="1.3" fill="none" stroke-linejoin="round" stroke-linecap="round" />
<path d="M231.1,315.0 L244.8,315.0 L244.8,331.5 L231.1,331.5 Z" stroke="none" stroke-width="0" fill="#fff" stroke-linejoin="round" stroke-linecap="round" />
<path d="M223,334.5 L223,337 A11.799999999999997,3 0 0 0 246.6,337 L246.6,334.5" stroke="#6a0e0e" stroke-width="1.3" fill="#fff" stroke-linejoin="round" stroke-linecap="round" />
<ellipse cx="234.8" cy="334.5" rx="11.799999999999997" ry="3" stroke="#6a0e0e" stroke-width="1.3" fill="#fff" transform="rotate(0 234.8 334.5)"/>
<path d="M223.5,337.25 A11.799999999999997,3 0 0 0 246.1,337.25" stroke="#6a0e0e" stroke-width="0.8" fill="none" stroke-linejoin="round" stroke-linecap="round" />
<path d="M232.5,340 L232.5,345 M244,340 L244,345" stroke="#6a0e0e" stroke-width="1.3" fill="none" stroke-linejoin="round" stroke-linecap="round" />
<path d="M233.1,340.0 L243.4,340.0 L243.4,345.0 L233.1,345.0 Z" stroke="none" stroke-width="0" fill="#fff" stroke-linejoin="round" stroke-linecap="round" />
<path d="M231,344.5 L246,344.5 C250,347 252.5,352 252.5,357 C252.5,363 250,368.5 245,368.5 L234,368.5 C228.5,368 225.8,362 225.8,356 C225.8,350 228,346 231,344.5 Z" stroke="#6a0e0e" stroke-width="1.3" fill="#fff" stroke-linejoin="round" stroke-linecap="round" />
<ellipse cx="249.3" cy="357" rx="3.4" ry="11.4" stroke="#6a0e0e" stroke-width="1.3" fill="#fff" transform="rotate(0 249.3 357)"/>
<path d="M237,345.5 C233,350 233,363 237,368" stroke="#6a0e0e" stroke-width="0.8" fill="none" stroke-linejoin="round" stroke-linecap="round" />
<path d="M241.0,368.5 L241.0,371.0 L237.0,371.0" stroke="#6a0e0e" stroke-width="1.0" fill="none" stroke-linejoin="round" stroke-linecap="round" />
</g>
<g transform="translate(75,-26.2)">
<path d="M243.2,401.0 L276.2,390.0 L391.0,413.0 L358.0,424.0 Z" stroke="#161616" stroke-width="0.9" fill="#fff" stroke-linejoin="round" stroke-linecap="round" />
<path d="M243.2,401.0 L358.0,424.0 L358.0,438.0 L243.2,415.0 Z" stroke="#161616" stroke-width="1.0" fill="#fff" stroke-linejoin="round" stroke-linecap="round" />
<path d="M358.0,424.0 L391.0,413.0 L391.0,427.0 L358.0,438.0 Z" stroke="#161616" stroke-width="1.0" fill="#fff" stroke-linejoin="round" stroke-linecap="round" />
<path d="M243.2,403.2 L358.0,426.2" stroke="#161616" stroke-width="0.7" fill="none" stroke-linejoin="round" stroke-linecap="round" />
<path d="M243.2,412.8 L358.0,435.8" stroke="#161616" stroke-width="0.7" fill="none" stroke-linejoin="round" stroke-linecap="round" />
<path d="M358.0,425.5 L391.0,414.5" stroke="#161616" stroke-width="1.5" fill="none" stroke-linejoin="round" stroke-linecap="round" />
<path d="M247.2,402.0 L247.2,414.0" stroke="#161616" stroke-width="1.3" fill="none" stroke-linejoin="round" stroke-linecap="round" />
<path d="M249.0,399.2 L283.0,391.8" stroke="#161616" stroke-width="0.7" fill="none" stroke-linejoin="round" stroke-linecap="round" />
<path d="M255.0,403.5 L305.0,393.5" stroke="#161616" stroke-width="0.7" fill="none" stroke-linejoin="round" stroke-linecap="round" />
<path d="M270.0,404.0 L318.0,413.5" stroke="#161616" stroke-width="0.7" fill="none" stroke-linejoin="round" stroke-linecap="round" />
<path d="M311.4,399.2 L344.8,388.6 L389.7,397.1 L356.3,407.7 Z" stroke="#161616" stroke-width="1.0" fill="#fff" stroke-linejoin="round" stroke-linecap="round" />
<path d="M311.4,399.2 L356.3,407.7 L356.3,424.0 L311.4,415.1 Z" stroke="#161616" stroke-width="1.0" fill="#fff" stroke-linejoin="round" stroke-linecap="round" />
<path d="M356.3,407.7 L389.7,397.1 L390.5,413.4 L356.3,424.0 Z" stroke="#161616" stroke-width="1.0" fill="#fff" stroke-linejoin="round" stroke-linecap="round" />
<path d="M311.4,399.2 L311.4,415.1" stroke="#161616" stroke-width="1.5" fill="none" stroke-linejoin="round" stroke-linecap="round" />
<path d="M356.3,408.0 L356.3,424.0" stroke="#161616" stroke-width="1.5" fill="none" stroke-linejoin="round" stroke-linecap="round" />
<path d="M291.3,379.8 L296.2,380.5 L296.2,403.4 L291.3,402.6 Z" stroke="#161616" stroke-width="1.2" fill="#fff" stroke-linejoin="round" stroke-linecap="round" />
<path d="M291.3,380.0 L291.3,402.6" stroke="#161616" stroke-width="1.6" fill="none" stroke-linejoin="round" stroke-linecap="round" />
<path d="M293.7,365.2 L299.6,359.0 L323.0,364.0 L317.2,370.1 Z" stroke="#161616" stroke-width="1.0" fill="#fff" stroke-linejoin="round" stroke-linecap="round" />
<path d="M293.7,365.2 L317.2,370.1 L317.2,383.8 L293.7,380.9 Z" stroke="#161616" stroke-width="1.0" fill="#fff" stroke-linejoin="round" stroke-linecap="round" />
<path d="M326.3,357.5 L360,362.5 A11,19 0 0 1 360,400.5 L327,396.8 A10.8,19.65 0 0 1 326.3,357.5 Z" stroke="#161616" stroke-width="1.0" fill="#fff" stroke-linejoin="round" stroke-linecap="round" />
<path d="M329.5,358.3 A10,19 0 0 0 330,397.2" stroke="#161616" stroke-width="0.8" fill="none" stroke-linejoin="round" stroke-linecap="round" />
<path d="M351.5,361.5 A9.5,18.5 0 0 0 351,399.3" stroke="#161616" stroke-width="1.1" fill="none" stroke-linejoin="round" stroke-linecap="round" />
<ellipse cx="360" cy="381.5" rx="11" ry="19" stroke="#161616" stroke-width="1.0" fill="#fff" transform="rotate(0 360 381.5)"/>
<ellipse cx="361" cy="381.5" rx="6.6" ry="9.8" stroke="#161616" stroke-width="1.5" fill="#fff" transform="rotate(0 361 381.5)"/>
<ellipse cx="361.6" cy="381.5" rx="5" ry="8" stroke="#161616" stroke-width="0.8" fill="none" transform="rotate(0 361.6 381.5)"/>
<path d="M257.0,390.0 L252.0,404.0" stroke="#161616" stroke-width="0.9" fill="none" stroke-linejoin="round" stroke-linecap="round" />
<path d="M262.0,392.0 L258.0,405.0" stroke="#161616" stroke-width="0.9" fill="none" stroke-linejoin="round" stroke-linecap="round" />
<path d="M267.0,393.0 L267.0,404.0" stroke="#161616" stroke-width="0.9" fill="none" stroke-linejoin="round" stroke-linecap="round" />
<path d="M269.5,393.0 L269.5,404.0" stroke="#161616" stroke-width="0.9" fill="none" stroke-linejoin="round" stroke-linecap="round" />
<path d="M279.0,385.0 L286.0,396.0" stroke="#161616" stroke-width="0.9" fill="none" stroke-linejoin="round" stroke-linecap="round" />
<path d="M282.0,383.0 L289.0,394.0" stroke="#161616" stroke-width="0.9" fill="none" stroke-linejoin="round" stroke-linecap="round" />
<path d="M246.0,401.0 L268.0,405.5 L292.0,400.0" stroke="#161616" stroke-width="0.9" fill="none" stroke-linejoin="round" stroke-linecap="round" />
<path d="M250.8,347 C252,344 258,341.5 266,341.5 C278,342 287,351 287.5,366 C288,382 280,393 268,395 C260,396 254,390 252,380 C250,370 250,356 250.8,347 Z" stroke="#161616" stroke-width="1.0" fill="#fff" stroke-linejoin="round" stroke-linecap="round" />
<path d="M262,348 C259,353 258,358 258,362" stroke="#161616" stroke-width="0.8" fill="none" stroke-linejoin="round" stroke-linecap="round" />
<ellipse cx="274.2" cy="365.3" rx="8.8" ry="13.7" stroke="#161616" stroke-width="1.0" fill="#fff" transform="rotate(0 274.2 365.3)"/>
<path d="M274.2,352.4 A7.6,12.9 0 0 0 274.2,378.2" stroke="#161616" stroke-width="2.4" fill="none" stroke-linejoin="round" stroke-linecap="round" />
<path d="M275.5,354 A6,11.3 0 0 0 275.5,376.6" stroke="#161616" stroke-width="0.8" fill="none" stroke-linejoin="round" stroke-linecap="round" />
<path d="M327.5,394.0 L345.5,397.0 L346.5,403.5 L328.5,401.0 Z" stroke="#161616" stroke-width="1.0" fill="#fff" stroke-linejoin="round" stroke-linecap="round" />
<path d="M311.4,415.1 L356.3,424.0" stroke="#161616" stroke-width="1.5" fill="none" stroke-linejoin="round" stroke-linecap="round" />
<path d="M276,356.5 L294,360 L294,378 L276,376 A4,9.75 0 0 1 276,356.5 Z" stroke="#161616" stroke-width="1.0" fill="#fff" stroke-linejoin="round" stroke-linecap="round" />
<path d="M230.5,121 L230.5,254 M245.4,121 L245.4,254" stroke="#6a0e0e" stroke-width="1.3" fill="none" stroke-linejoin="round" stroke-linecap="round" />
<path d="M231.1,121.0 L244.8,121.0 L244.8,254.0 L231.1,254.0 Z" stroke="none" stroke-width="0" fill="#fff" stroke-linejoin="round" stroke-linecap="round" />
<path d="M251.3,124 L251.3,337 M263.3,124 L263.3,337" stroke="#6a0e0e" stroke-width="1.3" fill="none" stroke-linejoin="round" stroke-linecap="round" />
<path d="M251.9,124.0 L262.7,124.0 L262.7,337.0 L251.9,337.0 Z" stroke="none" stroke-width="0" fill="#fff" stroke-linejoin="round" stroke-linecap="round" />
<path d="M226,117 Q226,113 229,112.5 L247.5,112 Q250.5,112.5 250.5,116 L250.5,121 Q250.5,124 247,124.2 L229,124.2 Q226,124 226,121 Z" stroke="#6a0e0e" stroke-width="1.3" fill="#fff" stroke-linejoin="round" stroke-linecap="round" />
<ellipse cx="238" cy="114.6" rx="9" ry="2.8" stroke="#6a0e0e" stroke-width="1.3" fill="#fff" transform="rotate(0 238 114.6)"/>
<ellipse cx="238" cy="114.6" rx="6" ry="1.8" stroke="#6a0e0e" stroke-width="0.8" fill="none" transform="rotate(0 238 114.6)"/>
<path d="M232,117.5 L232,124 M244,117.5 L244,124" stroke="#6a0e0e" stroke-width="0.8" fill="none" stroke-linejoin="round" stroke-linecap="round" />
<path d="M251.3,121 L251.3,117 C251.3,108 257,101.5 264,100 L266,121 Z" stroke="#6a0e0e" stroke-width="1.3" fill="#fff" stroke-linejoin="round" stroke-linecap="round" />
<path d="M268.5,102.5 L288.0,106.8 L286.0,119.2 L271.0,116.5 Z" stroke="#6a0e0e" stroke-width="1.3" fill="#fff" stroke-linejoin="round" stroke-linecap="round" />
<ellipse cx="268.4" cy="111" rx="5.4" ry="14" stroke="#6a0e0e" stroke-width="1.3" fill="#fff" transform="rotate(0 268.4 111)"/>
<ellipse cx="269.2" cy="111" rx="3.6" ry="10.5" stroke="#6a0e0e" stroke-width="1.5" fill="#fff" transform="rotate(0 269.2 111)"/>
<path d="M265.5,98.5 Q268,95.5 271,98 M265.5,123.5 Q268,126.5 271,124" stroke="#6a0e0e" stroke-width="1.0" fill="none" stroke-linejoin="round" stroke-linecap="round" />
<path d="M244.20,121.06 Q244.20,119.14 248.86,119.30 L262.37,120.26 Q264.70,118.18 266.57,119.46 Q268.20,121.86 265.64,124.26 Q255.85,127.62 246.53,125.54 Q243.97,124.10 244.20,121.06 Z" stroke="#6a0e0e" stroke-width="1.3" fill="#fff" stroke-linejoin="round" stroke-linecap="round" />
<path d="M252.82,121.86 Q251.19,124.26 252.82,126.66" stroke="#6a0e0e" stroke-width="0.8" fill="none" stroke-linejoin="round" stroke-linecap="round" />
<path d="M253.99,122.10 L262.84,121.38" stroke="#6a0e0e" stroke-width="0.7" fill="none" stroke-linejoin="round" stroke-linecap="round" />
<path d="M245.60,121.30 Q253.52,122.50 252.82,121.86" stroke="#6a0e0e" stroke-width="0.7" fill="none" stroke-linejoin="round" stroke-linecap="round" />
<path d="M282.4,109.0 L291.0,105.3 L299.5,104.8 L299.5,119.5 L289.3,121.6 L282.4,121.6 Z" stroke="#6a0e0e" stroke-width="1.3" fill="#fff" stroke-linejoin="round" stroke-linecap="round" />
<path d="M282.4,109.0 L289.3,107.4 L299.5,104.8" stroke="#6a0e0e" stroke-width="1.0" fill="none" stroke-linejoin="round" stroke-linecap="round" />
<path d="M289.3,107.4 L289.3,121.6" stroke="#6a0e0e" stroke-width="1.0" fill="none" stroke-linejoin="round" stroke-linecap="round" />
<ellipse cx="294.4" cy="113.3" rx="3.1" ry="6.4" stroke="#6a0e0e" stroke-width="1.3" fill="#fff" transform="rotate(0 294.4 113.3)"/>
<ellipse cx="294.8" cy="113.3" rx="2.0" ry="4.8" stroke="#6a0e0e" stroke-width="0.8" fill="none" transform="rotate(0 294.8 113.3)"/>
<path d="M246.30,162.40 Q246.30,160.60 250.64,160.75 L263.23,161.65 Q265.40,159.70 267.13,160.90 Q268.65,163.15 266.26,165.40 Q257.15,168.55 248.47,166.60 Q246.08,165.25 246.30,162.40 Z" stroke="#6a0e0e" stroke-width="1.3" fill="#fff" stroke-linejoin="round" stroke-linecap="round" />
<path d="M254.33,163.15 Q252.81,165.40 254.33,167.65" stroke="#6a0e0e" stroke-width="0.8" fill="none" stroke-linejoin="round" stroke-linecap="round" />
<path d="M255.41,163.38 L263.66,162.70" stroke="#6a0e0e" stroke-width="0.7" fill="none" stroke-linejoin="round" stroke-linecap="round" />
<path d="M247.60,162.62 Q254.98,163.75 254.33,163.15" stroke="#6a0e0e" stroke-width="0.7" fill="none" stroke-linejoin="round" stroke-linecap="round" />
<path d="M250,167.5 L264.5,167.5 L264.5,175 L250,175 Z" stroke="#6a0e0e" stroke-width="1.3" fill="#fff" stroke-linejoin="round" stroke-linecap="round" />
<path d="M246.30,177.56 Q246.30,175.64 250.64,175.80 L263.23,176.76 Q265.40,174.68 267.13,175.96 Q268.65,178.36 266.26,180.76 Q257.15,184.12 248.47,182.04 Q246.08,180.60 246.30,177.56 Z" stroke="#6a0e0e" stroke-width="1.3" fill="#fff" stroke-linejoin="round" stroke-linecap="round" />
<path d="M254.33,178.36 Q252.81,180.76 254.33,183.16" stroke="#6a0e0e" stroke-width="0.8" fill="none" stroke-linejoin="round" stroke-linecap="round" />
<path d="M255.41,178.60 L263.66,177.88" stroke="#6a0e0e" stroke-width="0.7" fill="none" stroke-linejoin="round" stroke-linecap="round" />
<path d="M247.60,177.80 Q254.98,179.00 254.33,178.36" stroke="#6a0e0e" stroke-width="0.7" fill="none" stroke-linejoin="round" stroke-linecap="round" />
<path d="M268,168 C268,162 275,161 276,167 L276,198 L272,197.5 L270.5,176 C268.5,174 268,171 268,168 Z" stroke="#6a0e0e" stroke-width="1.3" fill="#fff" stroke-linejoin="round" stroke-linecap="round" />
<path d="M272,166 C271,168 271,171 272.5,172 L273.5,196" stroke="#6a0e0e" stroke-width="0.8" fill="none" stroke-linejoin="round" stroke-linecap="round" />
<path d="M243.6,219 L243.6,224 A13.600000000000009,3 0 0 0 270.8,224 L270.8,219" stroke="#6a0e0e" stroke-width="1.3" fill="#fff" stroke-linejoin="round" stroke-linecap="round" />
<ellipse cx="257.2" cy="219" rx="13.600000000000009" ry="3" stroke="#6a0e0e" stroke-width="1.3" fill="#fff" transform="rotate(0 257.2 219)"/>
<path d="M244.1,223.0 A13.600000000000009,3 0 0 0 270.3,223.0" stroke="#6a0e0e" stroke-width="0.8" fill="none" stroke-linejoin="round" stroke-linecap="round" />
<path d="M245,226 L245,252.5 L262,252.5 C270,253 277,250 279,243 C281,236 277,231 272,229 L265,226 Z" stroke="#6a0e0e" stroke-width="1.3" fill="#fff" stroke-linejoin="round" stroke-linecap="round" />
<path d="M249.2,226.5 L249.2,252" stroke="#6a0e0e" stroke-width="0.9" fill="none" stroke-linejoin="round" stroke-linecap="round" />
<path d="M255.5,239.2 C254.5,246 257.5,251 262,252 C267,253 271.5,251.5 274.1,248" stroke="#6a0e0e" stroke-width="0.9" fill="none" stroke-linejoin="round" stroke-linecap="round" />
<ellipse cx="271.7" cy="237.3" rx="8.6" ry="6.3" stroke="#6a0e0e" stroke-width="1.3" fill="#fff" transform="rotate(-45 271.7 237.3)"/>
<ellipse cx="272.4" cy="236.6" rx="6.6" ry="4.6" stroke="#6a0e0e" stroke-width="0.8" fill="none" transform="rotate(-45 272.4 236.6)"/>
<path d="M262.5,233 L266,232.5" stroke="#6a0e0e" stroke-width="0.9" fill="none" stroke-linejoin="round" stroke-linecap="round" />
<ellipse cx="275" cy="233.8" rx="2.6" ry="1.9" stroke="#6a0e0e" stroke-width="1.0" fill="#fff" transform="rotate(-45 275 233.8)"/>
<path d="M276.0,232.5 L280.8,227.2" stroke="#6a0e0e" stroke-width="1.8" fill="none" stroke-linejoin="round" stroke-linecap="round" />
<path d="M244,256.5 L244,259 A13.5,3 0 0 0 271,259 L271,256.5" stroke="#6a0e0e" stroke-width="1.3" fill="#fff" stroke-linejoin="round" stroke-linecap="round" />
<ellipse cx="257.5" cy="256.5" rx="13.5" ry="3" stroke="#6a0e0e" stroke-width="1.3" fill="#fff" transform="rotate(0 257.5 256.5)"/>
<path d="M244.5,259.25 A13.5,3 0 0 0 270.5,259.25" stroke="#6a0e0e" stroke-width="0.8" fill="none" stroke-linejoin="round" stroke-linecap="round" />
<path d="M246.40,282.88 Q246.40,280.72 250.80,280.90 L263.56,281.98 Q265.76,279.64 267.52,281.08 Q269.06,283.78 266.64,286.48 Q257.40,290.26 248.60,287.92 Q246.18,286.30 246.40,282.88 Z" stroke="#6a0e0e" stroke-width="1.3" fill="#fff" stroke-linejoin="round" stroke-linecap="round" />
<path d="M254.54,283.78 Q253.00,286.48 254.54,289.18" stroke="#6a0e0e" stroke-width="0.8" fill="none" stroke-linejoin="round" stroke-linecap="round" />
<path d="M255.64,284.05 L264.00,283.24" stroke="#6a0e0e" stroke-width="0.7" fill="none" stroke-linejoin="round" stroke-linecap="round" />
<path d="M247.72,283.15 Q255.20,284.50 254.54,283.78" stroke="#6a0e0e" stroke-width="0.7" fill="none" stroke-linejoin="round" stroke-linecap="round" />
<path d="M246.40,309.56 Q246.40,307.64 250.80,307.80 L263.56,308.76 Q265.76,306.68 267.52,307.96 Q269.06,310.36 266.64,312.76 Q257.40,316.12 248.60,314.04 Q246.18,312.60 246.40,309.56 Z" stroke="#6a0e0e" stroke-width="1.3" fill="#fff" stroke-linejoin="round" stroke-linecap="round" />
<path d="M254.54,310.36 Q253.00,312.76 254.54,315.16" stroke="#6a0e0e" stroke-width="0.8" fill="none" stroke-linejoin="round" stroke-linecap="round" />
<path d="M255.64,310.60 L264.00,309.88" stroke="#6a0e0e" stroke-width="0.7" fill="none" stroke-linejoin="round" stroke-linecap="round" />
<path d="M247.72,309.80 Q255.20,311.00 254.54,310.36" stroke="#6a0e0e" stroke-width="0.7" fill="none" stroke-linejoin="round" stroke-linecap="round" />
<path d="M246.40,333.06 Q246.40,331.14 250.80,331.30 L263.56,332.26 Q265.76,330.18 267.52,331.46 Q269.06,333.86 266.64,336.26 Q257.40,339.62 248.60,337.54 Q246.18,336.10 246.40,333.06 Z" stroke="#6a0e0e" stroke-width="1.3" fill="#fff" stroke-linejoin="round" stroke-linecap="round" />
<path d="M254.54,333.86 Q253.00,336.26 254.54,338.66" stroke="#6a0e0e" stroke-width="0.8" fill="none" stroke-linejoin="round" stroke-linecap="round" />
<path d="M255.64,334.10 L264.00,333.38" stroke="#6a0e0e" stroke-width="0.7" fill="none" stroke-linejoin="round" stroke-linecap="round" />
<path d="M247.72,333.30 Q255.20,334.50 254.54,333.86" stroke="#6a0e0e" stroke-width="0.7" fill="none" stroke-linejoin="round" stroke-linecap="round" />
<path d="M246.6,341.5 L246.6,345 A11.000000000000014,3 0 0 0 268.6,345 L268.6,341.5" stroke="#6a0e0e" stroke-width="1.3" fill="#fff" stroke-linejoin="round" stroke-linecap="round" />
<ellipse cx="257.6" cy="341.5" rx="11.000000000000014" ry="3" stroke="#6a0e0e" stroke-width="1.3" fill="#fff" transform="rotate(0 257.6 341.5)"/>
<path d="M247.1,344.75 A11.000000000000014,3 0 0 0 268.1,344.75" stroke="#6a0e0e" stroke-width="0.8" fill="none" stroke-linejoin="round" stroke-linecap="round" />
<path d="M225.50,254.88 Q225.50,252.72 230.30,252.90 L244.22,253.98 Q246.62,251.64 248.54,253.08 Q250.22,255.78 247.58,258.48 Q237.50,262.26 227.90,259.92 Q225.26,258.30 225.50,254.88 Z" stroke="#6a0e0e" stroke-width="1.3" fill="#fff" stroke-linejoin="round" stroke-linecap="round" />
<path d="M234.38,255.78 Q232.70,258.48 234.38,261.18" stroke="#6a0e0e" stroke-width="0.8" fill="none" stroke-linejoin="round" stroke-linecap="round" />
<path d="M235.58,256.05 L244.70,255.24" stroke="#6a0e0e" stroke-width="0.7" fill="none" stroke-linejoin="round" stroke-linecap="round" />
<path d="M226.94,255.15 Q235.10,256.50 234.38,255.78" stroke="#6a0e0e" stroke-width="0.7" fill="none" stroke-linejoin="round" stroke-linecap="round" />
<path d="M229,261 L247,261 L247,266 L229,266 Z" stroke="#6a0e0e" stroke-width="1.3" fill="#fff" stroke-linejoin="round" stroke-linecap="round" />
<path d="M225.50,268.74 Q225.50,266.38 230.30,266.58 L244.22,267.76 Q246.62,265.21 248.54,266.78 Q250.22,269.72 247.58,272.66 Q237.50,276.77 227.90,274.22 Q225.26,272.46 225.50,268.74 Z" stroke="#6a0e0e" stroke-width="1.3" fill="#fff" stroke-linejoin="round" stroke-linecap="round" />
<path d="M234.38,269.72 Q232.70,272.66 234.38,275.60" stroke="#6a0e0e" stroke-width="0.8" fill="none" stroke-linejoin="round" stroke-linecap="round" />
<path d="M235.58,270.01 L244.70,269.13" stroke="#6a0e0e" stroke-width="0.7" fill="none" stroke-linejoin="round" stroke-linecap="round" />
<path d="M226.94,269.03 Q235.10,270.50 234.38,269.72" stroke="#6a0e0e" stroke-width="0.7" fill="none" stroke-linejoin="round" stroke-linecap="round" />
<path d="M218,261 C218,254 225.5,253 226.5,259 L226,292 L222,292 L220.5,269 C218.5,267 218,264 218,261 Z" stroke="#6a0e0e" stroke-width="1.3" fill="#fff" stroke-linejoin="round" stroke-linecap="round" />
<path d="M222,258 C221,261 221,264 222.5,265 L224,290" stroke="#6a0e0e" stroke-width="0.8" fill="none" stroke-linejoin="round" stroke-linecap="round" />
<path d="M230.5,276 L230.5,306 M245.4,276 L245.4,306" stroke="#6a0e0e" stroke-width="1.3" fill="none" stroke-linejoin="round" stroke-linecap="round" />
<path d="M231.1,276.0 L244.8,276.0 L244.8,306.0 L231.1,306.0 Z" stroke="none" stroke-width="0" fill="#fff" stroke-linejoin="round" stroke-linecap="round" />
<path d="M225.50,308.88 Q225.50,306.72 230.30,306.90 L244.22,307.98 Q246.62,305.64 248.54,307.08 Q250.22,309.78 247.58,312.48 Q237.50,316.26 227.90,313.92 Q225.26,312.30 225.50,308.88 Z" stroke="#6a0e0e" stroke-width="1.3" fill="#fff" stroke-linejoin="round" stroke-linecap="round" />
<path d="M234.38,309.78 Q232.70,312.48 234.38,315.18" stroke="#6a0e0e" stroke-width="0.8" fill="none" stroke-linejoin="round" stroke-linecap="round" />
<path d="M235.58,310.05 L244.70,309.24" stroke="#6a0e0e" stroke-width="0.7" fill="none" stroke-linejoin="round" stroke-linecap="round" />
<path d="M226.94,309.15 Q235.10,310.50 234.38,309.78" stroke="#6a0e0e" stroke-width="0.7" fill="none" stroke-linejoin="round" stroke-linecap="round" />
<path d="M230.5,315 L230.5,331.5 M245.4,315 L245.4,331.5" stroke="#6a0e0e" stroke-width="1.3" fill="none" stroke-linejoin="round" stroke-linecap="round" />
<path d="M231.1,315.0 L244.8,315.0 L244.8,331.5 L231.1,331.5 Z" stroke="none" stroke-width="0" fill="#fff" stroke-linejoin="round" stroke-linecap="round" />
<path d="M223,334.5 L223,337 A11.799999999999997,3 0 0 0 246.6,337 L246.6,334.5" stroke="#6a0e0e" stroke-width="1.3" fill="#fff" stroke-linejoin="round" stroke-linecap="round" />
<ellipse cx="234.8" cy="334.5" rx="11.799999999999997" ry="3" stroke="#6a0e0e" stroke-width="1.3" fill="#fff" transform="rotate(0 234.8 334.5)"/>
<path d="M223.5,337.25 A11.799999999999997,3 0 0 0 246.1,337.25" stroke="#6a0e0e" stroke-width="0.8" fill="none" stroke-linejoin="round" stroke-linecap="round" />
<path d="M232.5,340 L232.5,345 M244,340 L244,345" stroke="#6a0e0e" stroke-width="1.3" fill="none" stroke-linejoin="round" stroke-linecap="round" />
<path d="M233.1,340.0 L243.4,340.0 L243.4,345.0 L233.1,345.0 Z" stroke="none" stroke-width="0" fill="#fff" stroke-linejoin="round" stroke-linecap="round" />
<path d="M231,344.5 L246,344.5 C250,347 252.5,352 252.5,357 C252.5,363 250,368.5 245,368.5 L234,368.5 C228.5,368 225.8,362 225.8,356 C225.8,350 228,346 231,344.5 Z" stroke="#6a0e0e" stroke-width="1.3" fill="#fff" stroke-linejoin="round" stroke-linecap="round" />
<ellipse cx="249.3" cy="357" rx="3.4" ry="11.4" stroke="#6a0e0e" stroke-width="1.3" fill="#fff" transform="rotate(0 249.3 357)"/>
<path d="M237,345.5 C233,350 233,363 237,368" stroke="#6a0e0e" stroke-width="0.8" fill="none" stroke-linejoin="round" stroke-linecap="round" />
<path d="M241.0,368.5 L241.0,371.0 L237.0,371.0" stroke="#6a0e0e" stroke-width="1.0" fill="none" stroke-linejoin="round" stroke-linecap="round" />
</g>
<g transform="translate(0,0)">
<path d="M243.2,401.0 L276.2,390.0 L391.0,413.0 L358.0,424.0 Z" stroke="#161616" stroke-width="0.9" fill="#fff" stroke-linejoin="round" stroke-linecap="round" />
<path d="M243.2,401.0 L358.0,424.0 L358.0,438.0 L243.2,415.0 Z" stroke="#161616" stroke-width="1.0" fill="#fff" stroke-linejoin="round" stroke-linecap="round" />
<path d="M358.0,424.0 L391.0,413.0 L391.0,427.0 L358.0,438.0 Z" stroke="#161616" stroke-width="1.0" fill="#fff" stroke-linejoin="round" stroke-linecap="round" />
<path d="M243.2,403.2 L358.0,426.2" stroke="#161616" stroke-width="0.7" fill="none" stroke-linejoin="round" stroke-linecap="round" />
<path d="M243.2,412.8 L358.0,435.8" stroke="#161616" stroke-width="0.7" fill="none" stroke-linejoin="round" stroke-linecap="round" />
<path d="M358.0,425.5 L391.0,414.5" stroke="#161616" stroke-width="1.5" fill="none" stroke-linejoin="round" stroke-linecap="round" />
<path d="M247.2,402.0 L247.2,414.0" stroke="#161616" stroke-width="1.3" fill="none" stroke-linejoin="round" stroke-linecap="round" />
<path d="M249.0,399.2 L283.0,391.8" stroke="#161616" stroke-width="0.7" fill="none" stroke-linejoin="round" stroke-linecap="round" />
<path d="M255.0,403.5 L305.0,393.5" stroke="#161616" stroke-width="0.7" fill="none" stroke-linejoin="round" stroke-linecap="round" />
<path d="M270.0,404.0 L318.0,413.5" stroke="#161616" stroke-width="0.7" fill="none" stroke-linejoin="round" stroke-linecap="round" />
<path d="M311.4,399.2 L344.8,388.6 L389.7,397.1 L356.3,407.7 Z" stroke="#161616" stroke-width="1.0" fill="#fff" stroke-linejoin="round" stroke-linecap="round" />
<path d="M311.4,399.2 L356.3,407.7 L356.3,424.0 L311.4,415.1 Z" stroke="#161616" stroke-width="1.0" fill="#fff" stroke-linejoin="round" stroke-linecap="round" />
<path d="M356.3,407.7 L389.7,397.1 L390.5,413.4 L356.3,424.0 Z" stroke="#161616" stroke-width="1.0" fill="#fff" stroke-linejoin="round" stroke-linecap="round" />
<path d="M311.4,399.2 L311.4,415.1" stroke="#161616" stroke-width="1.5" fill="none" stroke-linejoin="round" stroke-linecap="round" />
<path d="M356.3,408.0 L356.3,424.0" stroke="#161616" stroke-width="1.5" fill="none" stroke-linejoin="round" stroke-linecap="round" />
<path d="M291.3,379.8 L296.2,380.5 L296.2,403.4 L291.3,402.6 Z" stroke="#161616" stroke-width="1.2" fill="#fff" stroke-linejoin="round" stroke-linecap="round" />
<path d="M291.3,380.0 L291.3,402.6" stroke="#161616" stroke-width="1.6" fill="none" stroke-linejoin="round" stroke-linecap="round" />
<path d="M293.7,365.2 L299.6,359.0 L323.0,364.0 L317.2,370.1 Z" stroke="#161616" stroke-width="1.0" fill="#fff" stroke-linejoin="round" stroke-linecap="round" />
<path d="M293.7,365.2 L317.2,370.1 L317.2,383.8 L293.7,380.9 Z" stroke="#161616" stroke-width="1.0" fill="#fff" stroke-linejoin="round" stroke-linecap="round" />
<path d="M326.3,357.5 L360,362.5 A11,19 0 0 1 360,400.5 L327,396.8 A10.8,19.65 0 0 1 326.3,357.5 Z" stroke="#161616" stroke-width="1.0" fill="#fff" stroke-linejoin="round" stroke-linecap="round" />
<path d="M329.5,358.3 A10,19 0 0 0 330,397.2" stroke="#161616" stroke-width="0.8" fill="none" stroke-linejoin="round" stroke-linecap="round" />
<path d="M351.5,361.5 A9.5,18.5 0 0 0 351,399.3" stroke="#161616" stroke-width="1.1" fill="none" stroke-linejoin="round" stroke-linecap="round" />
<ellipse cx="360" cy="381.5" rx="11" ry="19" stroke="#161616" stroke-width="1.0" fill="#fff" transform="rotate(0 360 381.5)"/>
<ellipse cx="361" cy="381.5" rx="6.6" ry="9.8" stroke="#161616" stroke-width="1.5" fill="#fff" transform="rotate(0 361 381.5)"/>
<ellipse cx="361.6" cy="381.5" rx="5" ry="8" stroke="#161616" stroke-width="0.8" fill="none" transform="rotate(0 361.6 381.5)"/>
<path d="M257.0,390.0 L252.0,404.0" stroke="#161616" stroke-width="0.9" fill="none" stroke-linejoin="round" stroke-linecap="round" />
<path d="M262.0,392.0 L258.0,405.0" stroke="#161616" stroke-width="0.9" fill="none" stroke-linejoin="round" stroke-linecap="round" />
<path d="M267.0,393.0 L267.0,404.0" stroke="#161616" stroke-width="0.9" fill="none" stroke-linejoin="round" stroke-linecap="round" />
<path d="M269.5,393.0 L269.5,404.0" stroke="#161616" stroke-width="0.9" fill="none" stroke-linejoin="round" stroke-linecap="round" />
<path d="M279.0,385.0 L286.0,396.0" stroke="#161616" stroke-width="0.9" fill="none" stroke-linejoin="round" stroke-linecap="round" />
<path d="M282.0,383.0 L289.0,394.0" stroke="#161616" stroke-width="0.9" fill="none" stroke-linejoin="round" stroke-linecap="round" />
<path d="M246.0,401.0 L268.0,405.5 L292.0,400.0" stroke="#161616" stroke-width="0.9" fill="none" stroke-linejoin="round" stroke-linecap="round" />
<path d="M250.8,347 C252,344 258,341.5 266,341.5 C278,342 287,351 287.5,366 C288,382 280,393 268,395 C260,396 254,390 252,380 C250,370 250,356 250.8,347 Z" stroke="#161616" stroke-width="1.0" fill="#fff" stroke-linejoin="round" stroke-linecap="round" />
<path d="M262,348 C259,353 258,358 258,362" stroke="#161616" stroke-width="0.8" fill="none" stroke-linejoin="round" stroke-linecap="round" />
<ellipse cx="274.2" cy="365.3" rx="8.8" ry="13.7" stroke="#161616" stroke-width="1.0" fill="#fff" transform="rotate(0 274.2 365.3)"/>
<path d="M274.2,352.4 A7.6,12.9 0 0 0 274.2,378.2" stroke="#161616" stroke-width="2.4" fill="none" stroke-linejoin="round" stroke-linecap="round" />
<path d="M275.5,354 A6,11.3 0 0 0 275.5,376.6" stroke="#161616" stroke-width="0.8" fill="none" stroke-linejoin="round" stroke-linecap="round" />
<path d="M327.5,394.0 L345.5,397.0 L346.5,403.5 L328.5,401.0 Z" stroke="#161616" stroke-width="1.0" fill="#fff" stroke-linejoin="round" stroke-linecap="round" />
<path d="M311.4,415.1 L356.3,424.0" stroke="#161616" stroke-width="1.5" fill="none" stroke-linejoin="round" stroke-linecap="round" />
<path d="M276,356.5 L294,360 L294,378 L276,376 A4,9.75 0 0 1 276,356.5 Z" stroke="#161616" stroke-width="1.0" fill="#fff" stroke-linejoin="round" stroke-linecap="round" />
<path d="M230.5,121 L230.5,254 M245.4,121 L245.4,254" stroke="#6a0e0e" stroke-width="1.3" fill="none" stroke-linejoin="round" stroke-linecap="round" />
<path d="M231.1,121.0 L244.8,121.0 L244.8,254.0 L231.1,254.0 Z" stroke="none" stroke-width="0" fill="#fff" stroke-linejoin="round" stroke-linecap="round" />
<path d="M251.3,124 L251.3,337 M263.3,124 L263.3,337" stroke="#6a0e0e" stroke-width="1.3" fill="none" stroke-linejoin="round" stroke-linecap="round" />
<path d="M251.9,124.0 L262.7,124.0 L262.7,337.0 L251.9,337.0 Z" stroke="none" stroke-width="0" fill="#fff" stroke-linejoin="round" stroke-linecap="round" />
<path d="M226,117 Q226,113 229,112.5 L247.5,112 Q250.5,112.5 250.5,116 L250.5,121 Q250.5,124 247,124.2 L229,124.2 Q226,124 226,121 Z" stroke="#6a0e0e" stroke-width="1.3" fill="#fff" stroke-linejoin="round" stroke-linecap="round" />
<ellipse cx="238" cy="114.6" rx="9" ry="2.8" stroke="#6a0e0e" stroke-width="1.3" fill="#fff" transform="rotate(0 238 114.6)"/>
<ellipse cx="238" cy="114.6" rx="6" ry="1.8" stroke="#6a0e0e" stroke-width="0.8" fill="none" transform="rotate(0 238 114.6)"/>
<path d="M232,117.5 L232,124 M244,117.5 L244,124" stroke="#6a0e0e" stroke-width="0.8" fill="none" stroke-linejoin="round" stroke-linecap="round" />
<path d="M251.3,121 L251.3,117 C251.3,108 257,101.5 264,100 L266,121 Z" stroke="#6a0e0e" stroke-width="1.3" fill="#fff" stroke-linejoin="round" stroke-linecap="round" />
<path d="M268.5,102.5 L288.0,106.8 L286.0,119.2 L271.0,116.5 Z" stroke="#6a0e0e" stroke-width="1.3" fill="#fff" stroke-linejoin="round" stroke-linecap="round" />
<ellipse cx="268.4" cy="111" rx="5.4" ry="14" stroke="#6a0e0e" stroke-width="1.3" fill="#fff" transform="rotate(0 268.4 111)"/>
<ellipse cx="269.2" cy="111" rx="3.6" ry="10.5" stroke="#6a0e0e" stroke-width="1.5" fill="#fff" transform="rotate(0 269.2 111)"/>
<path d="M265.5,98.5 Q268,95.5 271,98 M265.5,123.5 Q268,126.5 271,124" stroke="#6a0e0e" stroke-width="1.0" fill="none" stroke-linejoin="round" stroke-linecap="round" />
<path d="M244.20,121.06 Q244.20,119.14 248.86,119.30 L262.37,120.26 Q264.70,118.18 266.57,119.46 Q268.20,121.86 265.64,124.26 Q255.85,127.62 246.53,125.54 Q243.97,124.10 244.20,121.06 Z" stroke="#6a0e0e" stroke-width="1.3" fill="#fff" stroke-linejoin="round" stroke-linecap="round" />
<path d="M252.82,121.86 Q251.19,124.26 252.82,126.66" stroke="#6a0e0e" stroke-width="0.8" fill="none" stroke-linejoin="round" stroke-linecap="round" />
<path d="M253.99,122.10 L262.84,121.38" stroke="#6a0e0e" stroke-width="0.7" fill="none" stroke-linejoin="round" stroke-linecap="round" />
<path d="M245.60,121.30 Q253.52,122.50 252.82,121.86" stroke="#6a0e0e" stroke-width="0.7" fill="none" stroke-linejoin="round" stroke-linecap="round" />
<path d="M282.4,109.0 L291.0,105.3 L299.5,104.8 L299.5,119.5 L289.3,121.6 L282.4,121.6 Z" stroke="#6a0e0e" stroke-width="1.3" fill="#fff" stroke-linejoin="round" stroke-linecap="round" />
<path d="M282.4,109.0 L289.3,107.4 L299.5,104.8" stroke="#6a0e0e" stroke-width="1.0" fill="none" stroke-linejoin="round" stroke-linecap="round" />
<path d="M289.3,107.4 L289.3,121.6" stroke="#6a0e0e" stroke-width="1.0" fill="none" stroke-linejoin="round" stroke-linecap="round" />
<ellipse cx="294.4" cy="113.3" rx="3.1" ry="6.4" stroke="#6a0e0e" stroke-width="1.3" fill="#fff" transform="rotate(0 294.4 113.3)"/>
<ellipse cx="294.8" cy="113.3" rx="2.0" ry="4.8" stroke="#6a0e0e" stroke-width="0.8" fill="none" transform="rotate(0 294.8 113.3)"/>
<path d="M246.30,162.40 Q246.30,160.60 250.64,160.75 L263.23,161.65 Q265.40,159.70 267.13,160.90 Q268.65,163.15 266.26,165.40 Q257.15,168.55 248.47,166.60 Q246.08,165.25 246.30,162.40 Z" stroke="#6a0e0e" stroke-width="1.3" fill="#fff" stroke-linejoin="round" stroke-linecap="round" />
<path d="M254.33,163.15 Q252.81,165.40 254.33,167.65" stroke="#6a0e0e" stroke-width="0.8" fill="none" stroke-linejoin="round" stroke-linecap="round" />
<path d="M255.41,163.38 L263.66,162.70" stroke="#6a0e0e" stroke-width="0.7" fill="none" stroke-linejoin="round" stroke-linecap="round" />
<path d="M247.60,162.62 Q254.98,163.75 254.33,163.15" stroke="#6a0e0e" stroke-width="0.7" fill="none" stroke-linejoin="round" stroke-linecap="round" />
<path d="M250,167.5 L264.5,167.5 L264.5,175 L250,175 Z" stroke="#6a0e0e" stroke-width="1.3" fill="#fff" stroke-linejoin="round" stroke-linecap="round" />
<path d="M246.30,177.56 Q246.30,175.64 250.64,175.80 L263.23,176.76 Q265.40,174.68 267.13,175.96 Q268.65,178.36 266.26,180.76 Q257.15,184.12 248.47,182.04 Q246.08,180.60 246.30,177.56 Z" stroke="#6a0e0e" stroke-width="1.3" fill="#fff" stroke-linejoin="round" stroke-linecap="round" />
<path d="M254.33,178.36 Q252.81,180.76 254.33,183.16" stroke="#6a0e0e" stroke-width="0.8" fill="none" stroke-linejoin="round" stroke-linecap="round" />
<path d="M255.41,178.60 L263.66,177.88" stroke="#6a0e0e" stroke-width="0.7" fill="none" stroke-linejoin="round" stroke-linecap="round" />
<path d="M247.60,177.80 Q254.98,179.00 254.33,178.36" stroke="#6a0e0e" stroke-width="0.7" fill="none" stroke-linejoin="round" stroke-linecap="round" />
<path d="M268,168 C268,162 275,161 276,167 L276,198 L272,197.5 L270.5,176 C268.5,174 268,171 268,168 Z" stroke="#6a0e0e" stroke-width="1.3" fill="#fff" stroke-linejoin="round" stroke-linecap="round" />
<path d="M272,166 C271,168 271,171 272.5,172 L273.5,196" stroke="#6a0e0e" stroke-width="0.8" fill="none" stroke-linejoin="round" stroke-linecap="round" />
<path d="M243.6,219 L243.6,224 A13.600000000000009,3 0 0 0 270.8,224 L270.8,219" stroke="#6a0e0e" stroke-width="1.3" fill="#fff" stroke-linejoin="round" stroke-linecap="round" />
<ellipse cx="257.2" cy="219" rx="13.600000000000009" ry="3" stroke="#6a0e0e" stroke-width="1.3" fill="#fff" transform="rotate(0 257.2 219)"/>
<path d="M244.1,223.0 A13.600000000000009,3 0 0 0 270.3,223.0" stroke="#6a0e0e" stroke-width="0.8" fill="none" stroke-linejoin="round" stroke-linecap="round" />
<path d="M245,226 L245,252.5 L262,252.5 C270,253 277,250 279,243 C281,236 277,231 272,229 L265,226 Z" stroke="#6a0e0e" stroke-width="1.3" fill="#fff" stroke-linejoin="round" stroke-linecap="round" />
<path d="M249.2,226.5 L249.2,252" stroke="#6a0e0e" stroke-width="0.9" fill="none" stroke-linejoin="round" stroke-linecap="round" />
<path d="M255.5,239.2 C254.5,246 257.5,251 262,252 C267,253 271.5,251.5 274.1,248" stroke="#6a0e0e" stroke-width="0.9" fill="none" stroke-linejoin="round" stroke-linecap="round" />
<ellipse cx="271.7" cy="237.3" rx="8.6" ry="6.3" stroke="#6a0e0e" stroke-width="1.3" fill="#fff" transform="rotate(-45 271.7 237.3)"/>
<ellipse cx="272.4" cy="236.6" rx="6.6" ry="4.6" stroke="#6a0e0e" stroke-width="0.8" fill="none" transform="rotate(-45 272.4 236.6)"/>
<path d="M262.5,233 L266,232.5" stroke="#6a0e0e" stroke-width="0.9" fill="none" stroke-linejoin="round" stroke-linecap="round" />
<ellipse cx="275" cy="233.8" rx="2.6" ry="1.9" stroke="#6a0e0e" stroke-width="1.0" fill="#fff" transform="rotate(-45 275 233.8)"/>
<path d="M276.0,232.5 L280.8,227.2" stroke="#6a0e0e" stroke-width="1.8" fill="none" stroke-linejoin="round" stroke-linecap="round" />
<path d="M244,256.5 L244,259 A13.5,3 0 0 0 271,259 L271,256.5" stroke="#6a0e0e" stroke-width="1.3" fill="#fff" stroke-linejoin="round" stroke-linecap="round" />
<ellipse cx="257.5" cy="256.5" rx="13.5" ry="3" stroke="#6a0e0e" stroke-width="1.3" fill="#fff" transform="rotate(0 257.5 256.5)"/>
<path d="M244.5,259.25 A13.5,3 0 0 0 270.5,259.25" stroke="#6a0e0e" stroke-width="0.8" fill="none" stroke-linejoin="round" stroke-linecap="round" />
<path d="M246.40,282.88 Q246.40,280.72 250.80,280.90 L263.56,281.98 Q265.76,279.64 267.52,281.08 Q269.06,283.78 266.64,286.48 Q257.40,290.26 248.60,287.92 Q246.18,286.30 246.40,282.88 Z" stroke="#6a0e0e" stroke-width="1.3" fill="#fff" stroke-linejoin="round" stroke-linecap="round" />
<path d="M254.54,283.78 Q253.00,286.48 254.54,289.18" stroke="#6a0e0e" stroke-width="0.8" fill="none" stroke-linejoin="round" stroke-linecap="round" />
<path d="M255.64,284.05 L264.00,283.24" stroke="#6a0e0e" stroke-width="0.7" fill="none" stroke-linejoin="round" stroke-linecap="round" />
<path d="M247.72,283.15 Q255.20,284.50 254.54,283.78" stroke="#6a0e0e" stroke-width="0.7" fill="none" stroke-linejoin="round" stroke-linecap="round" />
<path d="M246.40,309.56 Q246.40,307.64 250.80,307.80 L263.56,308.76 Q265.76,306.68 267.52,307.96 Q269.06,310.36 266.64,312.76 Q257.40,316.12 248.60,314.04 Q246.18,312.60 246.40,309.56 Z" stroke="#6a0e0e" stroke-width="1.3" fill="#fff" stroke-linejoin="round" stroke-linecap="round" />
<path d="M254.54,310.36 Q253.00,312.76 254.54,315.16" stroke="#6a0e0e" stroke-width="0.8" fill="none" stroke-linejoin="round" stroke-linecap="round" />
<path d="M255.64,310.60 L264.00,309.88" stroke="#6a0e0e" stroke-width="0.7" fill="none" stroke-linejoin="round" stroke-linecap="round" />
<path d="M247.72,309.80 Q255.20,311.00 254.54,310.36" stroke="#6a0e0e" stroke-width="0.7" fill="none" stroke-linejoin="round" stroke-linecap="round" />
<path d="M246.40,333.06 Q246.40,331.14 250.80,331.30 L263.56,332.26 Q265.76,330.18 267.52,331.46 Q269.06,333.86 266.64,336.26 Q257.40,339.62 248.60,337.54 Q246.18,336.10 246.40,333.06 Z" stroke="#6a0e0e" stroke-width="1.3" fill="#fff" stroke-linejoin="round" stroke-linecap="round" />
<path d="M254.54,333.86 Q253.00,336.26 254.54,338.66" stroke="#6a0e0e" stroke-width="0.8" fill="none" stroke-linejoin="round" stroke-linecap="round" />
<path d="M255.64,334.10 L264.00,333.38" stroke="#6a0e0e" stroke-width="0.7" fill="none" stroke-linejoin="round" stroke-linecap="round" />
<path d="M247.72,333.30 Q255.20,334.50 254.54,333.86" stroke="#6a0e0e" stroke-width="0.7" fill="none" stroke-linejoin="round" stroke-linecap="round" />
<path d="M246.6,341.5 L246.6,345 A11.000000000000014,3 0 0 0 268.6,345 L268.6,341.5" stroke="#6a0e0e" stroke-width="1.3" fill="#fff" stroke-linejoin="round" stroke-linecap="round" />
<ellipse cx="257.6" cy="341.5" rx="11.000000000000014" ry="3" stroke="#6a0e0e" stroke-width="1.3" fill="#fff" transform="rotate(0 257.6 341.5)"/>
<path d="M247.1,344.75 A11.000000000000014,3 0 0 0 268.1,344.75" stroke="#6a0e0e" stroke-width="0.8" fill="none" stroke-linejoin="round" stroke-linecap="round" />
<path d="M225.50,254.88 Q225.50,252.72 230.30,252.90 L244.22,253.98 Q246.62,251.64 248.54,253.08 Q250.22,255.78 247.58,258.48 Q237.50,262.26 227.90,259.92 Q225.26,258.30 225.50,254.88 Z" stroke="#6a0e0e" stroke-width="1.3" fill="#fff" stroke-linejoin="round" stroke-linecap="round" />
<path d="M234.38,255.78 Q232.70,258.48 234.38,261.18" stroke="#6a0e0e" stroke-width="0.8" fill="none" stroke-linejoin="round" stroke-linecap="round" />
<path d="M235.58,256.05 L244.70,255.24" stroke="#6a0e0e" stroke-width="0.7" fill="none" stroke-linejoin="round" stroke-linecap="round" />
<path d="M226.94,255.15 Q235.10,256.50 234.38,255.78" stroke="#6a0e0e" stroke-width="0.7" fill="none" stroke-linejoin="round" stroke-linecap="round" />
<path d="M229,261 L247,261 L247,266 L229,266 Z" stroke="#6a0e0e" stroke-width="1.3" fill="#fff" stroke-linejoin="round" stroke-linecap="round" />
<path d="M225.50,268.74 Q225.50,266.38 230.30,266.58 L244.22,267.76 Q246.62,265.21 248.54,266.78 Q250.22,269.72 247.58,272.66 Q237.50,276.77 227.90,274.22 Q225.26,272.46 225.50,268.74 Z" stroke="#6a0e0e" stroke-width="1.3" fill="#fff" stroke-linejoin="round" stroke-linecap="round" />
<path d="M234.38,269.72 Q232.70,272.66 234.38,275.60" stroke="#6a0e0e" stroke-width="0.8" fill="none" stroke-linejoin="round" stroke-linecap="round" />
<path d="M235.58,270.01 L244.70,269.13" stroke="#6a0e0e" stroke-width="0.7" fill="none" stroke-linejoin="round" stroke-linecap="round" />
<path d="M226.94,269.03 Q235.10,270.50 234.38,269.72" stroke="#6a0e0e" stroke-width="0.7" fill="none" stroke-linejoin="round" stroke-linecap="round" />
<path d="M218,261 C218,254 225.5,253 226.5,259 L226,292 L222,292 L220.5,269 C218.5,267 218,264 218,261 Z" stroke="#6a0e0e" stroke-width="1.3" fill="#fff" stroke-linejoin="round" stroke-linecap="round" />
<path d="M222,258 C221,261 221,264 222.5,265 L224,290" stroke="#6a0e0e" stroke-width="0.8" fill="none" stroke-linejoin="round" stroke-linecap="round" />
<path d="M230.5,276 L230.5,306 M245.4,276 L245.4,306" stroke="#6a0e0e" stroke-width="1.3" fill="none" stroke-linejoin="round" stroke-linecap="round" />
<path d="M231.1,276.0 L244.8,276.0 L244.8,306.0 L231.1,306.0 Z" stroke="none" stroke-width="0" fill="#fff" stroke-linejoin="round" stroke-linecap="round" />
<path d="M225.50,308.88 Q225.50,306.72 230.30,306.90 L244.22,307.98 Q246.62,305.64 248.54,307.08 Q250.22,309.78 247.58,312.48 Q237.50,316.26 227.90,313.92 Q225.26,312.30 225.50,308.88 Z" stroke="#6a0e0e" stroke-width="1.3" fill="#fff" stroke-linejoin="round" stroke-linecap="round" />
<path d="M234.38,309.78 Q232.70,312.48 234.38,315.18" stroke="#6a0e0e" stroke-width="0.8" fill="none" stroke-linejoin="round" stroke-linecap="round" />
<path d="M235.58,310.05 L244.70,309.24" stroke="#6a0e0e" stroke-width="0.7" fill="none" stroke-linejoin="round" stroke-linecap="round" />
<path d="M226.94,309.15 Q235.10,310.50 234.38,309.78" stroke="#6a0e0e" stroke-width="0.7" fill="none" stroke-linejoin="round" stroke-linecap="round" />
<path d="M230.5,315 L230.5,331.5 M245.4,315 L245.4,331.5" stroke="#6a0e0e" stroke-width="1.3" fill="none" stroke-linejoin="round" stroke-linecap="round" />
<path d="M231.1,315.0 L244.8,315.0 L244.8,331.5 L231.1,331.5 Z" stroke="none" stroke-width="0" fill="#fff" stroke-linejoin="round" stroke-linecap="round" />
<path d="M223,334.5 L223,337 A11.799999999999997,3 0 0 0 246.6,337 L246.6,334.5" stroke="#6a0e0e" stroke-width="1.3" fill="#fff" stroke-linejoin="round" stroke-linecap="round" />
<ellipse cx="234.8" cy="334.5" rx="11.799999999999997" ry="3" stroke="#6a0e0e" stroke-width="1.3" fill="#fff" transform="rotate(0 234.8 334.5)"/>
<path d="M223.5,337.25 A11.799999999999997,3 0 0 0 246.1,337.25" stroke="#6a0e0e" stroke-width="0.8" fill="none" stroke-linejoin="round" stroke-linecap="round" />
<path d="M232.5,340 L232.5,345 M244,340 L244,345" stroke="#6a0e0e" stroke-width="1.3" fill="none" stroke-linejoin="round" stroke-linecap="round" />
<path d="M233.1,340.0 L243.4,340.0 L243.4,345.0 L233.1,345.0 Z" stroke="none" stroke-width="0" fill="#fff" stroke-linejoin="round" stroke-linecap="round" />
<path d="M231,344.5 L246,344.5 C250,347 252.5,352 252.5,357 C252.5,363 250,368.5 245,368.5 L234,368.5 C228.5,368 225.8,362 225.8,356 C225.8,350 228,346 231,344.5 Z" stroke="#6a0e0e" stroke-width="1.3" fill="#fff" stroke-linejoin="round" stroke-linecap="round" />
<ellipse cx="249.3" cy="357" rx="3.4" ry="11.4" stroke="#6a0e0e" stroke-width="1.3" fill="#fff" transform="rotate(0 249.3 357)"/>
<path d="M237,345.5 C233,350 233,363 237,368" stroke="#6a0e0e" stroke-width="0.8" fill="none" stroke-linejoin="round" stroke-linecap="round" />
<path d="M241.0,368.5 L241.0,371.0 L237.0,371.0" stroke="#6a0e0e" stroke-width="1.0" fill="none" stroke-linejoin="round" stroke-linecap="round" />
</g>
<path d="M220.5,101.5 L221.0,112.0 L229.0,117.0" stroke="#1c1c1c" stroke-width="1.05" fill="none" stroke-linejoin="round" stroke-linecap="round" />
<path d="M217.0,142.2 L239.0,142.2" stroke="#1c1c1c" stroke-width="1.05" fill="none" stroke-linejoin="round" stroke-linecap="round" />
<path d="M391.2,34.0 L391.2,43.0 L405.0,58.0" stroke="#1c1c1c" stroke-width="1.05" fill="none" stroke-linejoin="round" stroke-linecap="round" />
<path d="M417.7,29.0 L417.7,48.0" stroke="#1c1c1c" stroke-width="1.05" fill="none" stroke-linejoin="round" stroke-linecap="round" />
<path d="M462.0,31.8 L443.0,31.8 L425.0,52.0" stroke="#1c1c1c" stroke-width="1.05" fill="none" stroke-linejoin="round" stroke-linecap="round" />
<path d="M470.0,60.0 L448.0,59.0" stroke="#1c1c1c" stroke-width="1.05" fill="none" stroke-linejoin="round" stroke-linecap="round" />
<path d="M440.0,79.0 L425.0,79.0 L415.0,70.0" stroke="#1c1c1c" stroke-width="1.05" fill="none" stroke-linejoin="round" stroke-linecap="round" />
<path d="M459.4,97.0 L412.0,97.0" stroke="#1c1c1c" stroke-width="1.05" fill="none" stroke-linejoin="round" stroke-linecap="round" />
<path d="M434.0,111.0 L415.0,111.0" stroke="#1c1c1c" stroke-width="1.05" fill="none" stroke-linejoin="round" stroke-linecap="round" />
<path d="M456.0,129.0 L430.0,129.0 L420.0,119.0" stroke="#1c1c1c" stroke-width="1.05" fill="none" stroke-linejoin="round" stroke-linecap="round" />
<path d="M429.3,144.3 L413.0,127.0" stroke="#1c1c1c" stroke-width="1.05" fill="none" stroke-linejoin="round" stroke-linecap="round" />
<path d="M456.0,157.6 L420.0,157.6 L407.0,151.0" stroke="#1c1c1c" stroke-width="1.05" fill="none" stroke-linejoin="round" stroke-linecap="round" />
<path d="M434.0,176.0 L423.0,170.0 L405.0,170.0" stroke="#1c1c1c" stroke-width="1.05" fill="none" stroke-linejoin="round" stroke-linecap="round" />
<path d="M464.3,191.2 L430.0,191.2 L420.0,181.0" stroke="#1c1c1c" stroke-width="1.05" fill="none" stroke-linejoin="round" stroke-linecap="round" />
<path d="M434.5,206.5 L415.0,206.5" stroke="#1c1c1c" stroke-width="1.05" fill="none" stroke-linejoin="round" stroke-linecap="round" />
<path d="M458.0,224.0 L422.0,214.0 L408.0,214.0" stroke="#1c1c1c" stroke-width="1.05" fill="none" stroke-linejoin="round" stroke-linecap="round" />
<path d="M418.0,232.2 L412.0,232.2" stroke="#1c1c1c" stroke-width="1.05" fill="none" stroke-linejoin="round" stroke-linecap="round" />
<path d="M441.8,246.0 L412.0,246.0" stroke="#1c1c1c" stroke-width="1.05" fill="none" stroke-linejoin="round" stroke-linecap="round" />
<path d="M464.0,259.0 L412.0,259.0" stroke="#1c1c1c" stroke-width="1.05" fill="none" stroke-linejoin="round" stroke-linecap="round" />
<path d="M429.3,273.2 L410.0,273.2" stroke="#1c1c1c" stroke-width="1.05" fill="none" stroke-linejoin="round" stroke-linecap="round" />
<path d="M370.7,271.6 L395.0,274.0 L405.0,283.0" stroke="#1c1c1c" stroke-width="1.05" fill="none" stroke-linejoin="round" stroke-linecap="round" />
<path d="M370.7,299.3 L381.0,299.3" stroke="#1c1c1c" stroke-width="1.05" fill="none" stroke-linejoin="round" stroke-linecap="round" />
<path d="M447.3,295.4 L420.0,295.4" stroke="#1c1c1c" stroke-width="1.05" fill="none" stroke-linejoin="round" stroke-linecap="round" />
<path d="M222.6,228.4 L228.5,252.0" stroke="#1c1c1c" stroke-width="1.05" fill="none" stroke-linejoin="round" stroke-linecap="round" />
<path d="M207.5,247.6 L221.7,247.6 L222.6,256.8" stroke="#1c1c1c" stroke-width="1.05" fill="none" stroke-linejoin="round" stroke-linecap="round" />
<path d="M207.5,273.4 L222.0,273.4" stroke="#1c1c1c" stroke-width="1.05" fill="none" stroke-linejoin="round" stroke-linecap="round" />
<path d="M220.0,299.6 L237.0,299.6" stroke="#1c1c1c" stroke-width="1.05" fill="none" stroke-linejoin="round" stroke-linecap="round" />
<path d="M196.0,319.2 L218.0,319.2 L227.0,313.0" stroke="#1c1c1c" stroke-width="1.05" fill="none" stroke-linejoin="round" stroke-linecap="round" />
<path d="M220.0,334.4 L222.0,334.4 L222.0,329.0 L237.0,329.0" stroke="#1c1c1c" stroke-width="1.05" fill="none" stroke-linejoin="round" stroke-linecap="round" />
<path d="M194.5,348.9 L226.0,348.9" stroke="#1c1c1c" stroke-width="1.05" fill="none" stroke-linejoin="round" stroke-linecap="round" />
<circle cx="220.5" cy="88.4" r="13" fill="#fff" stroke="#1c1c1c" stroke-width="1.15"/>
<text x="220.6" y="92.0" font-size="10" letter-spacing="0.15" text-anchor="middle" fill="#111" stroke="#111" stroke-width="0.05">F41</text>
<circle cx="204.3" cy="142.2" r="13" fill="#fff" stroke="#1c1c1c" stroke-width="1.15"/>
<text x="204.4" y="145.79999999999998" font-size="10" letter-spacing="0.15" text-anchor="middle" fill="#111" stroke="#111" stroke-width="0.05">P169</text>
<circle cx="209.7" cy="223.8" r="13" fill="#fff" stroke="#1c1c1c" stroke-width="1.15"/>
<text x="209.79999999999998" y="227.4" font-size="10" letter-spacing="0.15" text-anchor="middle" fill="#111" stroke="#111" stroke-width="0.05">F20</text>
<circle cx="194.5" cy="247.3" r="13" fill="#fff" stroke="#1c1c1c" stroke-width="1.15"/>
<text x="194.6" y="250.9" font-size="10" letter-spacing="0.15" text-anchor="middle" fill="#555a66" stroke="#555a66" stroke-width="0.05">V2</text>
<circle cx="194.5" cy="273.4" r="13" fill="#fff" stroke="#1c1c1c" stroke-width="1.15"/>
<text x="194.6" y="277.0" font-size="10" letter-spacing="0.15" text-anchor="middle" fill="#111" stroke="#111" stroke-width="0.05">F20</text>
<circle cx="207" cy="299.6" r="13" fill="#fff" stroke="#1c1c1c" stroke-width="1.15"/>
<text x="207.1" y="303.20000000000005" font-size="10" letter-spacing="0.15" text-anchor="middle" fill="#111" stroke="#111" stroke-width="0.05">P168</text>
<circle cx="183.1" cy="319.2" r="13" fill="#fff" stroke="#1c1c1c" stroke-width="1.15"/>
<text x="183.2" y="322.8" font-size="10" letter-spacing="0.15" text-anchor="middle" fill="#111" stroke="#111" stroke-width="0.05">F20</text>
<circle cx="207" cy="334.4" r="13" fill="#fff" stroke="#1c1c1c" stroke-width="1.15"/>
<text x="207.1" y="338.0" font-size="10" letter-spacing="0.15" text-anchor="middle" fill="#111" stroke="#111" stroke-width="0.05">P167</text>
<circle cx="181.5" cy="348.9" r="13" fill="#fff" stroke="#1c1c1c" stroke-width="1.15"/>
<text x="181.6" y="352.5" font-size="10" letter-spacing="0.15" text-anchor="middle" fill="#111" stroke="#111" stroke-width="0.05">F10</text>
<circle cx="391.2" cy="21.2" r="13" fill="#fff" stroke="#1c1c1c" stroke-width="1.15"/>
<text x="391.3" y="24.8" font-size="10" letter-spacing="0.15" text-anchor="middle" fill="#111" stroke="#111" stroke-width="0.05">F12</text>
<circle cx="417.7" cy="15.9" r="13" fill="#fff" stroke="#1c1c1c" stroke-width="1.15"/>
<text x="417.8" y="19.5" font-size="10" letter-spacing="0.15" text-anchor="middle" fill="#111" stroke="#111" stroke-width="0.05">F40</text>
<circle cx="474.6" cy="31.8" r="13" fill="#fff" stroke="#1c1c1c" stroke-width="1.15"/>
<text x="474.70000000000005" y="35.4" font-size="10" letter-spacing="0.15" text-anchor="middle" fill="#111" stroke="#111" stroke-width="0.05">P162</text>
<circle cx="483" cy="60" r="13" fill="#fff" stroke="#1c1c1c" stroke-width="1.15"/>
<text x="483.1" y="63.6" font-size="10" letter-spacing="0.15" text-anchor="middle" fill="#111" stroke="#111" stroke-width="0.05">F40</text>
<circle cx="453.1" cy="79.1" r="13" fill="#fff" stroke="#1c1c1c" stroke-width="1.15"/>
<text x="453.20000000000005" y="82.69999999999999" font-size="10" letter-spacing="0.15" text-anchor="middle" fill="#111" stroke="#111" stroke-width="0.05">F40</text>
<circle cx="472.4" cy="97.1" r="13" fill="#fff" stroke="#1c1c1c" stroke-width="1.15"/>
<text x="472.5" y="100.69999999999999" font-size="10" letter-spacing="0.15" text-anchor="middle" fill="#111" stroke="#111" stroke-width="0.05">P165</text>
<circle cx="447" cy="111" r="13" fill="#fff" stroke="#1c1c1c" stroke-width="1.15"/>
<text x="447.1" y="114.6" font-size="10" letter-spacing="0.15" text-anchor="middle" fill="#111" stroke="#111" stroke-width="0.05">F40</text>
<circle cx="469.1" cy="129" r="13" fill="#fff" stroke="#1c1c1c" stroke-width="1.15"/>
<text x="469.20000000000005" y="132.6" font-size="10" letter-spacing="0.15" text-anchor="middle" fill="#555a66" stroke="#555a66" stroke-width="0.05">V1</text>
<circle cx="442.3" cy="144.3" r="13" fill="#fff" stroke="#1c1c1c" stroke-width="1.15"/>
<text x="442.40000000000003" y="147.9" font-size="10" letter-spacing="0.15" text-anchor="middle" fill="#111" stroke="#111" stroke-width="0.05">F40</text>
<circle cx="469.1" cy="157.6" r="13" fill="#fff" stroke="#1c1c1c" stroke-width="1.15"/>
<text x="469.20000000000005" y="161.2" font-size="10" letter-spacing="0.15" text-anchor="middle" fill="#111" stroke="#111" stroke-width="0.05">P166</text>
<circle cx="447.1" cy="176.2" r="13" fill="#fff" stroke="#1c1c1c" stroke-width="1.15"/>
<text x="447.20000000000005" y="179.79999999999998" font-size="10" letter-spacing="0.15" text-anchor="middle" fill="#111" stroke="#111" stroke-width="0.05">F9</text>
<circle cx="477.3" cy="191.2" r="13" fill="#fff" stroke="#1c1c1c" stroke-width="1.15"/>
<text x="477.40000000000003" y="194.79999999999998" font-size="10" letter-spacing="0.15" text-anchor="middle" fill="#111" stroke="#111" stroke-width="0.05">199</text>
<circle cx="447.5" cy="206.5" r="13" fill="#fff" stroke="#1c1c1c" stroke-width="1.15"/>
<text x="447.6" y="210.1" font-size="10" letter-spacing="0.15" text-anchor="middle" fill="#111" stroke="#111" stroke-width="0.05">F9</text>
<circle cx="471" cy="224.6" r="13" fill="#fff" stroke="#1c1c1c" stroke-width="1.15"/>
<text x="471.1" y="228.2" font-size="10" letter-spacing="0.15" text-anchor="middle" fill="#111" stroke="#111" stroke-width="0.05">P164</text>
<circle cx="431.2" cy="232.2" r="13" fill="#fff" stroke="#1c1c1c" stroke-width="1.15"/>
<text x="431.3" y="235.79999999999998" font-size="10" letter-spacing="0.15" text-anchor="middle" fill="#111" stroke="#111" stroke-width="0.05">F19</text>
<circle cx="454.8" cy="246" r="13" fill="#fff" stroke="#1c1c1c" stroke-width="1.15"/>
<text x="454.90000000000003" y="249.6" font-size="10" letter-spacing="0.15" text-anchor="middle" fill="#111" stroke="#111" stroke-width="0.05">P163</text>
<circle cx="477" cy="259.1" r="13" fill="#fff" stroke="#1c1c1c" stroke-width="1.15"/>
<text x="477.1" y="262.70000000000005" font-size="10" letter-spacing="0.15" text-anchor="middle" fill="#111" stroke="#111" stroke-width="0.05">F19</text>
<circle cx="442.3" cy="273.2" r="13" fill="#fff" stroke="#1c1c1c" stroke-width="1.15"/>
<text x="442.40000000000003" y="276.8" font-size="10" letter-spacing="0.15" text-anchor="middle" fill="#111" stroke="#111" stroke-width="0.05">P161</text>
<circle cx="357.7" cy="271.6" r="13" fill="#fff" stroke="#1c1c1c" stroke-width="1.15"/>
<text x="357.8" y="275.20000000000005" font-size="10" letter-spacing="0.15" text-anchor="middle" fill="#111" stroke="#111" stroke-width="0.05">F19</text>
<circle cx="357.7" cy="299.3" r="13" fill="#fff" stroke="#1c1c1c" stroke-width="1.15"/>
<text x="357.8" y="302.90000000000003" font-size="10" letter-spacing="0.15" text-anchor="middle" fill="#111" stroke="#111" stroke-width="0.05">F8</text>
<circle cx="460.3" cy="295.4" r="13" fill="#fff" stroke="#1c1c1c" stroke-width="1.15"/>
<text x="460.40000000000003" y="299.0" font-size="10" letter-spacing="0.15" text-anchor="middle" fill="#111" stroke="#111" stroke-width="0.05">F24</text>
</svg></body></html>
